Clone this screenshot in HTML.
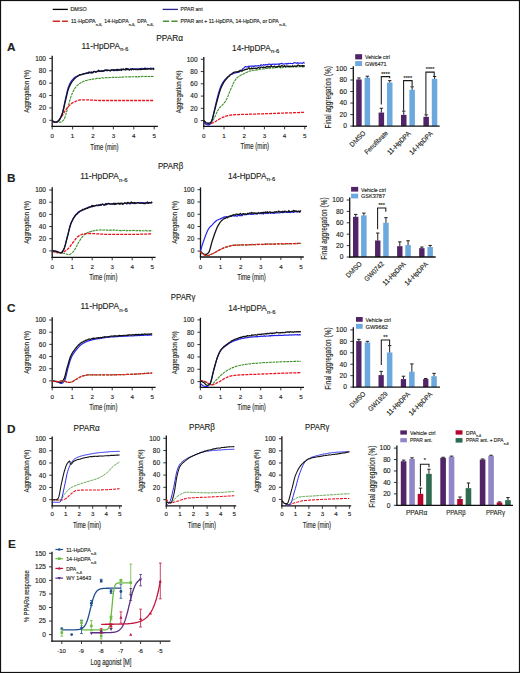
<!DOCTYPE html><html><head><meta charset="utf-8"><style>html,body{margin:0;padding:0;background:#fff;}svg{display:block;}text{stroke:#231f20;stroke-width:0.14px;}</style></head><body><svg width="520" height="673" viewBox="0 0 520 673" font-family="'Liberation Sans', sans-serif" fill="#231f20">
<rect x="0" y="0" width="520" height="673" fill="#fff"/>
<line x1="52.7" y1="9.4" x2="67.8" y2="9.4" stroke="#000" stroke-width="1.3"/>
<text x="70.4" y="10.9" font-size="5.2" textLength="16.4" lengthAdjust="spacingAndGlyphs">DMSO</text>
<line x1="52.7" y1="21.2" x2="67.8" y2="21.2" stroke="#d22a1c" stroke-width="1.4" stroke-dasharray="7.3 2.1"/>
<text x="71" y="23" font-size="5.2" textLength="24.6" lengthAdjust="spacingAndGlyphs">11-HpDPA</text>
<text x="95.8" y="26.1" font-size="4.2" textLength="6.6" lengthAdjust="spacingAndGlyphs">n-6,</text>
<text x="104.3" y="23" font-size="5.2" textLength="24.3" lengthAdjust="spacingAndGlyphs">14-HpDPA</text>
<text x="128.8" y="26.1" font-size="4.2" textLength="6.6" lengthAdjust="spacingAndGlyphs">n-6,</text>
<text x="137.2" y="23" font-size="5.2" textLength="9.5" lengthAdjust="spacingAndGlyphs">DPA</text>
<text x="147" y="26.1" font-size="4.2" textLength="7" lengthAdjust="spacingAndGlyphs">n-6,</text>
<line x1="162.7" y1="9.4" x2="177.9" y2="9.4" stroke="#2b2090" stroke-width="1.3"/>
<text x="180.6" y="10.9" font-size="5.2" textLength="22" lengthAdjust="spacingAndGlyphs">PPAR ant</text>
<line x1="162.9" y1="21.2" x2="177.8" y2="21.2" stroke="#4b9036" stroke-width="1.4" stroke-dasharray="6.2 2.3"/>
<text x="180.6" y="23" font-size="5.2" textLength="98.2" lengthAdjust="spacingAndGlyphs">PPAR ant + 11-HpDPA, 14-HpDPA, or DPA</text>
<text x="279.3" y="26.1" font-size="4.2" textLength="7" lengthAdjust="spacingAndGlyphs">n-6,</text>
<text x="7" y="51" font-size="11.8" font-weight="bold">A</text>
<text x="156.2" y="41.2" font-size="8.6" textLength="26.8" lengthAdjust="spacingAndGlyphs">PPARα</text>
<text x="81.5" y="48.8" font-size="8.3" textLength="38.5" lengthAdjust="spacingAndGlyphs">11-HpDPA</text>
<text x="120.3" y="51.2" font-size="5.15" textLength="8" lengthAdjust="spacingAndGlyphs">n-6</text>
<text x="232.1" y="50.5" font-size="8.3" textLength="38.5" lengthAdjust="spacingAndGlyphs">14-HpDPA</text>
<text x="270.9" y="52.9" font-size="5.15" textLength="8.5" lengthAdjust="spacingAndGlyphs">n-6</text>
<line x1="52.2" y1="55.7" x2="52.2" y2="127.05" stroke="#111" stroke-width="1.3"/>
<line x1="49.2" y1="120.3" x2="52.2" y2="120.3" stroke="#231f20" stroke-width="0.9"/>
<text x="46" y="122.6" font-size="6.5" text-anchor="end">0</text>
<line x1="49.2" y1="107.92" x2="52.2" y2="107.92" stroke="#231f20" stroke-width="0.9"/>
<text x="46" y="110.22" font-size="6.5" text-anchor="end">20</text>
<line x1="49.2" y1="95.54" x2="52.2" y2="95.54" stroke="#231f20" stroke-width="0.9"/>
<text x="46" y="97.84" font-size="6.5" text-anchor="end">40</text>
<line x1="49.2" y1="83.16" x2="52.2" y2="83.16" stroke="#231f20" stroke-width="0.9"/>
<text x="46" y="85.46" font-size="6.5" text-anchor="end">60</text>
<line x1="49.2" y1="70.78" x2="52.2" y2="70.78" stroke="#231f20" stroke-width="0.9"/>
<text x="46" y="73.08" font-size="6.5" text-anchor="end">80</text>
<line x1="49.2" y1="58.4" x2="52.2" y2="58.4" stroke="#231f20" stroke-width="0.9"/>
<text x="46" y="60.7" font-size="6.5" text-anchor="end">100</text>
<line x1="51.55" y1="126.4" x2="157.9" y2="126.4" stroke="#111" stroke-width="1.3"/>
<line x1="52.2" y1="126.4" x2="52.2" y2="129.4" stroke="#231f20" stroke-width="0.9"/>
<text x="52.2" y="138.4" font-size="6.2" text-anchor="middle">0</text>
<line x1="72.6" y1="126.4" x2="72.6" y2="129.4" stroke="#231f20" stroke-width="0.9"/>
<text x="72.6" y="138.4" font-size="6.2" text-anchor="middle">1</text>
<line x1="93" y1="126.4" x2="93" y2="129.4" stroke="#231f20" stroke-width="0.9"/>
<text x="93" y="138.4" font-size="6.2" text-anchor="middle">2</text>
<line x1="113.4" y1="126.4" x2="113.4" y2="129.4" stroke="#231f20" stroke-width="0.9"/>
<text x="113.4" y="138.4" font-size="6.2" text-anchor="middle">3</text>
<line x1="133.8" y1="126.4" x2="133.8" y2="129.4" stroke="#231f20" stroke-width="0.9"/>
<text x="133.8" y="138.4" font-size="6.2" text-anchor="middle">4</text>
<line x1="154.2" y1="126.4" x2="154.2" y2="129.4" stroke="#231f20" stroke-width="0.9"/>
<text x="154.2" y="138.4" font-size="6.2" text-anchor="middle">5</text>
<text x="104.45" y="149.5" font-size="8.4" text-anchor="middle" textLength="28.2" lengthAdjust="spacingAndGlyphs">Time (min)</text>
<text x="0" y="0" font-size="8" text-anchor="middle" textLength="42.8" lengthAdjust="spacingAndGlyphs" transform="translate(29.1,91.35) rotate(-90)">Aggregation (%)</text>
<path d="M52.2 120.3 L52.87 120.74 L53.54 121.11 L54.21 121.4 L54.88 121.64 L55.56 121.82 L56.23 121.95 L56.9 122.04 L57.57 122.1 L58.24 122.14 L58.91 122.15 L59.58 122.16 L60.25 122.14 L60.92 121.97 L61.59 121.66 L62.27 121.23 L62.94 120.71 L63.61 120.11 L64.28 118.98 L64.95 117.3 L65.62 115.22 L66.29 112.9 L66.96 110.5 L67.63 108.19 L68.31 105.99 L68.98 103.6 L69.65 101.15 L70.32 98.76 L70.99 96.66 L71.66 94.89 L72.33 93.29 L73 91.72 L73.67 90.38 L74.34 89.21 L75.02 88.15 L75.69 87.38 L76.36 86.52 L77.03 85.7 L77.7 85.14 L78.37 84.48 L79.04 83.91 L79.71 83.43 L80.38 83.15 L81.06 82.62 L81.73 82.11 L82.4 82.13 L83.07 81.51 L83.74 81.32 L84.41 81.17 L85.08 80.54 L85.75 80.51 L86.42 80.63 L87.09 80.26 L87.77 80.01 L88.44 79.99 L89.11 79.68 L89.78 79.68 L90.45 79.41 L91.12 79.13 L91.79 79.4 L92.46 79.12 L93.13 79.13 L93.81 78.91 L94.48 79.06 L95.15 78.85 L95.82 78.69 L96.49 78.4 L97.16 78.27 L97.83 78.65 L98.5 78.49 L99.17 78.15 L99.84 78.59 L100.52 78.25 L101.19 78.12 L101.86 77.82 L102.53 77.87 L103.2 78.01 L103.87 77.97 L104.54 77.9 L105.21 77.53 L105.88 77.85 L106.56 77.78 L107.23 77.62 L107.9 77.67 L108.57 77.64 L109.24 77.77 L109.91 77.53 L110.58 77.57 L111.25 77.24 L111.92 77.3 L112.59 77.39 L113.27 77.23 L113.94 77.39 L114.61 77.1 L115.28 77.27 L115.95 77.13 L116.62 77.45 L117.29 77.12 L117.96 77.47 L118.63 77.51 L119.31 77.17 L119.98 77.25 L120.65 77.03 L121.32 76.62 L121.99 77.17 L122.66 77.11 L123.33 76.94 L124 76.87 L124.67 76.97 L125.34 76.96 L126.02 76.77 L126.69 76.78 L127.36 77.05 L128.03 76.85 L128.7 76.81 L129.37 77 L130.04 76.73 L130.71 76.92 L131.38 76.56 L132.06 76.69 L132.73 76.69 L133.4 76.8 L134.07 76.69 L134.74 77.03 L135.41 76.85 L136.08 76.55 L136.75 77 L137.42 76.43 L138.09 76.9 L138.77 76.42 L139.44 76.7 L140.11 76.38 L140.78 76.49 L141.45 76.79 L142.12 76.26 L142.79 76.21 L143.46 76.48 L144.13 76.5 L144.81 76.47 L145.48 76.61 L146.15 76.22 L146.82 76.51 L147.49 76.41 L148.16 76.54 L148.83 76.5 L149.5 76.62 L150.17 76.14 L150.84 76.4 L151.52 76.18 L152.19 76.36 L152.86 76.48 L153.53 76.41 L154.2 76.46" fill="none" stroke="#3f922c" stroke-width="1.1" stroke-linejoin="round" stroke-dasharray="2.8 0.7"/>
<path d="M52.2 121.23 L52.87 121.63 L53.54 121.9 L54.21 122.05 L54.88 122.13 L55.56 122.15 L56.23 122.15 L56.9 121.95 L57.57 121.5 L58.24 120.87 L58.91 120.11 L59.58 119.26 L60.25 118.37 L60.92 117.51 L61.59 116.67 L62.27 115.69 L62.94 114.6 L63.61 113.44 L64.28 112.27 L64.95 111.11 L65.62 110.02 L66.29 109.04 L66.96 108.2 L67.63 107.4 L68.31 106.62 L68.98 105.87 L69.65 105.17 L70.32 104.51 L70.99 103.93 L71.66 103.42 L72.33 103 L73 102.64 L73.67 102.29 L74.34 101.95 L75.02 101.61 L75.69 101.3 L76.36 101.01 L77.03 100.74 L77.7 100.5 L78.37 100.29 L79.04 100.12 L79.71 99.99 L80.38 99.91 L81.06 99.87 L81.73 99.87 L82.4 99.87 L83.07 99.87 L83.74 99.87 L84.41 99.87 L85.08 99.87 L85.75 99.87 L86.42 99.87 L87.09 99.87 L87.77 99.88 L88.44 99.9 L89.11 99.93 L89.78 99.96 L90.45 99.99 L91.12 100.04 L91.79 100.08 L92.46 100.12 L93.13 100.17 L93.81 100.22 L94.48 100.26 L95.15 100.31 L95.82 100.35 L96.49 100.39 L97.16 100.42 L97.83 100.45 L98.5 100.47 L99.17 100.49 L99.84 100.49 L100.52 100.49 L101.19 100.49 L101.86 100.49 L102.53 100.49 L103.2 100.49 L103.87 100.49 L104.54 100.49 L105.21 100.49 L105.88 100.49 L106.56 100.49 L107.23 100.49 L107.9 100.49 L108.57 100.49 L109.24 100.49 L109.91 100.49 L110.58 100.49 L111.25 100.49 L111.92 100.49 L112.59 100.49 L113.27 100.49 L113.94 100.49 L114.61 100.49 L115.28 100.49 L115.95 100.49 L116.62 100.49 L117.29 100.49 L117.96 100.49 L118.63 100.49 L119.31 100.49 L119.98 100.49 L120.65 100.49 L121.32 100.49 L121.99 100.49 L122.66 100.49 L123.33 100.49 L124 100.49 L124.67 100.49 L125.34 100.49 L126.02 100.49 L126.69 100.49 L127.36 100.49 L128.03 100.49 L128.7 100.49 L129.37 100.49 L130.04 100.49 L130.71 100.49 L131.38 100.49 L132.06 100.49 L132.73 100.49 L133.4 100.49 L134.07 100.49 L134.74 100.49 L135.41 100.49 L136.08 100.49 L136.75 100.49 L137.42 100.49 L138.09 100.49 L138.77 100.49 L139.44 100.49 L140.11 100.49 L140.78 100.49 L141.45 100.49 L142.12 100.49 L142.79 100.49 L143.46 100.49 L144.13 100.49 L144.81 100.49 L145.48 100.49 L146.15 100.49 L146.82 100.49 L147.49 100.49 L148.16 100.49 L148.83 100.49 L149.5 100.49 L150.17 100.49 L150.84 100.49 L151.52 100.49 L152.19 100.49 L152.86 100.49 L153.53 100.49 L154.2 100.49" fill="none" stroke="#ea1420" stroke-width="1.3" stroke-linejoin="round" stroke-dasharray="3 1.0"/>
<path d="M52.2 120.61 L52.87 121.19 L53.54 121.61 L54.21 121.89 L54.88 122.06 L55.56 122.14 L56.23 122.15 L56.9 121.95 L57.57 121.53 L58.24 120.96 L58.91 120.32 L59.58 119.48 L60.25 118.3 L60.92 116.83 L61.59 115.14 L62.27 113.29 L62.94 110.89 L63.61 107.89 L64.28 104.58 L64.95 101.25 L65.62 98.2 L66.29 95.34 L66.96 92.45 L67.63 89.76 L68.31 87.48 L68.98 85.69 L69.65 84.1 L70.32 82.71 L70.99 81.53 L71.66 80.56 L72.33 79.81 L73 79.09 L73.67 78.43 L74.34 77.76 L75.02 77.28 L75.69 76.86 L76.36 76.57 L77.03 76.35 L77.7 75.77 L78.37 75.48 L79.04 75.37 L79.71 75.03 L80.38 74.76 L81.06 74.53 L81.73 74.31 L82.4 74.38 L83.07 73.81 L83.74 74.2 L84.41 73.59 L85.08 73.51 L85.75 73.26 L86.42 72.85 L87.09 72.78 L87.77 73.31 L88.44 73.32 L89.11 72.49 L89.78 72.86 L90.45 72.44 L91.12 72.06 L91.79 72.62 L92.46 72.62 L93.13 71.84 L93.81 71.78 L94.48 71.75 L95.15 71.56 L95.82 71.71 L96.49 71.8 L97.16 71.33 L97.83 71.48 L98.5 71.59 L99.17 70.92 L99.84 71.02 L100.52 70.83 L101.19 71.15 L101.86 71 L102.53 71.04 L103.2 70.96 L103.87 70.6 L104.54 70.82 L105.21 70.46 L105.88 70.41 L106.56 69.9 L107.23 70.8 L107.9 70.12 L108.57 70.35 L109.24 70.29 L109.91 70.65 L110.58 70.33 L111.25 69.96 L111.92 70.15 L112.59 70.07 L113.27 70.14 L113.94 69.7 L114.61 69.99 L115.28 70.56 L115.95 70.11 L116.62 70.43 L117.29 70.76 L117.96 69.96 L118.63 69.41 L119.31 69.74 L119.98 70.05 L120.65 69.95 L121.32 69.34 L121.99 69.58 L122.66 69.57 L123.33 69.57 L124 69.51 L124.67 69.26 L125.34 69.3 L126.02 69.36 L126.69 69.68 L127.36 69.22 L128.03 69.52 L128.7 68.99 L129.37 69.62 L130.04 69.27 L130.71 69.2 L131.38 69.54 L132.06 68.66 L132.73 68.7 L133.4 69.21 L134.07 68.83 L134.74 68.91 L135.41 69.72 L136.08 68.89 L136.75 68.95 L137.42 68.88 L138.09 69.17 L138.77 68.92 L139.44 68.87 L140.11 68.46 L140.78 68.67 L141.45 68.74 L142.12 68.29 L142.79 68.84 L143.46 68.77 L144.13 69.14 L144.81 68.17 L145.48 68.32 L146.15 68.31 L146.82 68.35 L147.49 68.48 L148.16 68.43 L148.83 68.54 L149.5 68.5 L150.17 68.41 L150.84 67.98 L151.52 68.23 L152.19 68.38 L152.86 68.5 L153.53 68.5 L154.2 67.86" fill="none" stroke="#2424e8" stroke-width="1.2" stroke-linejoin="round"/>
<path d="M52.2 120.61 L52.87 121.19 L53.54 121.61 L54.21 121.89 L54.88 122.06 L55.56 122.14 L56.23 122.15 L56.9 121.95 L57.57 121.52 L58.24 120.96 L58.91 120.32 L59.58 119.53 L60.25 118.45 L60.92 117.13 L61.59 115.61 L62.27 113.93 L62.94 111.75 L63.61 109.03 L64.28 106.01 L64.95 102.93 L65.62 100.05 L66.29 97.25 L66.96 94.35 L67.63 91.63 L68.31 89.33 L68.98 87.58 L69.65 86.04 L70.32 84.61 L70.99 83.45 L71.66 82.38 L72.33 81.28 L73 80.65 L73.67 79.67 L74.34 78.86 L75.02 78.32 L75.69 77.63 L76.36 76.79 L77.03 76.62 L77.7 76.22 L78.37 75.97 L79.04 75.32 L79.71 74.69 L80.38 74.55 L81.06 74.83 L81.73 74.61 L82.4 74.34 L83.07 73.94 L83.74 73.94 L84.41 73.66 L85.08 73.48 L85.75 73.56 L86.42 73.32 L87.09 73.08 L87.77 73.06 L88.44 72.67 L89.11 71.93 L89.78 72.34 L90.45 72.43 L91.12 73.05 L91.79 72.02 L92.46 72.9 L93.13 72.54 L93.81 71.44 L94.48 71.39 L95.15 71.65 L95.82 72.22 L96.49 71.54 L97.16 71.58 L97.83 70.93 L98.5 70.15 L99.17 70.97 L99.84 71.34 L100.52 71.44 L101.19 70.9 L101.86 70.89 L102.53 71.26 L103.2 70.65 L103.87 71.14 L104.54 70.11 L105.21 70.07 L105.88 70.01 L106.56 70.64 L107.23 70.16 L107.9 70.39 L108.57 70.45 L109.24 70.39 L109.91 70.76 L110.58 70.78 L111.25 69.77 L111.92 70.15 L112.59 69.94 L113.27 69.56 L113.94 70.71 L114.61 70.26 L115.28 69.81 L115.95 69.68 L116.62 69.98 L117.29 69.34 L117.96 69.66 L118.63 70.25 L119.31 70.1 L119.98 69.32 L120.65 69.44 L121.32 70.44 L121.99 69.01 L122.66 69.31 L123.33 68.97 L124 69.7 L124.67 69.64 L125.34 69.98 L126.02 68.37 L126.69 69.52 L127.36 68.74 L128.03 69.69 L128.7 69.31 L129.37 70.09 L130.04 69.51 L130.71 68.9 L131.38 69.85 L132.06 68.82 L132.73 69.12 L133.4 69.7 L134.07 69.45 L134.74 69.41 L135.41 69.22 L136.08 69.41 L136.75 69.52 L137.42 69.28 L138.09 69.58 L138.77 69.68 L139.44 69.12 L140.11 68.7 L140.78 69.74 L141.45 69.06 L142.12 69.33 L142.79 69.46 L143.46 68.65 L144.13 69.24 L144.81 68.35 L145.48 69.33 L146.15 68.81 L146.82 69.07 L147.49 69.29 L148.16 68.7 L148.83 69.02 L149.5 68.68 L150.17 68.96 L150.84 69.4 L151.52 68.97 L152.19 68.9 L152.86 68.51 L153.53 69.32 L154.2 68.94" fill="none" stroke="#141414" stroke-width="1.3" stroke-linejoin="round"/>
<line x1="203.8" y1="56.9" x2="203.8" y2="126.95" stroke="#111" stroke-width="1.3"/>
<line x1="200.8" y1="120.6" x2="203.8" y2="120.6" stroke="#231f20" stroke-width="0.9"/>
<text x="197.6" y="122.9" font-size="6.5" text-anchor="end">0</text>
<line x1="200.8" y1="108.34" x2="203.8" y2="108.34" stroke="#231f20" stroke-width="0.9"/>
<text x="197.6" y="110.64" font-size="6.5" text-anchor="end">20</text>
<line x1="200.8" y1="96.08" x2="203.8" y2="96.08" stroke="#231f20" stroke-width="0.9"/>
<text x="197.6" y="98.38" font-size="6.5" text-anchor="end">40</text>
<line x1="200.8" y1="83.82" x2="203.8" y2="83.82" stroke="#231f20" stroke-width="0.9"/>
<text x="197.6" y="86.12" font-size="6.5" text-anchor="end">60</text>
<line x1="200.8" y1="71.56" x2="203.8" y2="71.56" stroke="#231f20" stroke-width="0.9"/>
<text x="197.6" y="73.86" font-size="6.5" text-anchor="end">80</text>
<line x1="200.8" y1="59.3" x2="203.8" y2="59.3" stroke="#231f20" stroke-width="0.9"/>
<text x="197.6" y="61.6" font-size="6.5" text-anchor="end">100</text>
<line x1="203.15" y1="126.3" x2="307" y2="126.3" stroke="#111" stroke-width="1.3"/>
<line x1="203.8" y1="126.3" x2="203.8" y2="129.3" stroke="#231f20" stroke-width="0.9"/>
<text x="203.8" y="138.3" font-size="6.2" text-anchor="middle">0</text>
<line x1="224" y1="126.3" x2="224" y2="129.3" stroke="#231f20" stroke-width="0.9"/>
<text x="224" y="138.3" font-size="6.2" text-anchor="middle">1</text>
<line x1="244.2" y1="126.3" x2="244.2" y2="129.3" stroke="#231f20" stroke-width="0.9"/>
<text x="244.2" y="138.3" font-size="6.2" text-anchor="middle">2</text>
<line x1="264.4" y1="126.3" x2="264.4" y2="129.3" stroke="#231f20" stroke-width="0.9"/>
<text x="264.4" y="138.3" font-size="6.2" text-anchor="middle">3</text>
<line x1="284.6" y1="126.3" x2="284.6" y2="129.3" stroke="#231f20" stroke-width="0.9"/>
<text x="284.6" y="138.3" font-size="6.2" text-anchor="middle">4</text>
<line x1="304.8" y1="126.3" x2="304.8" y2="129.3" stroke="#231f20" stroke-width="0.9"/>
<text x="304.8" y="138.3" font-size="6.2" text-anchor="middle">5</text>
<text x="254.8" y="149.4" font-size="8.4" text-anchor="middle" textLength="28.6" lengthAdjust="spacingAndGlyphs">Time (min)</text>
<text x="0" y="0" font-size="8" text-anchor="middle" textLength="42.8" lengthAdjust="spacingAndGlyphs" transform="translate(180.7,91.95) rotate(-90)">Aggregation (%)</text>
<path d="M203.8 120.6 L204.47 121.3 L205.15 121.86 L205.82 122.3 L206.49 122.62 L207.17 122.85 L207.84 122.98 L208.51 123.04 L209.19 123.02 L209.86 122.79 L210.53 122.38 L211.21 121.86 L211.88 121.27 L212.55 120.64 L213.23 119.79 L213.9 118.69 L214.57 117.42 L215.25 116.02 L215.92 114.55 L216.59 113.08 L217.27 111.65 L217.94 110.32 L218.61 109.15 L219.29 108.19 L219.96 107.35 L220.63 106.58 L221.31 105.91 L221.98 105.27 L222.65 104.6 L223.33 103.93 L224 103.12 L224.67 102.29 L225.35 101.44 L226.02 100.38 L226.69 98.98 L227.37 97.33 L228.04 95.98 L228.71 94.03 L229.39 92.49 L230.06 90.71 L230.73 89.37 L231.41 87.73 L232.08 86.32 L232.75 84.8 L233.43 83.16 L234.1 81.96 L234.77 80.87 L235.45 79.78 L236.12 78.95 L236.79 78 L237.47 77.36 L238.14 76.85 L238.81 76.39 L239.49 76.15 L240.16 75.57 L240.83 75.21 L241.51 74.63 L242.18 74.21 L242.85 74.26 L243.53 74.06 L244.2 73.61 L244.87 73.37 L245.55 73.05 L246.22 72.56 L246.89 72.39 L247.57 71.76 L248.24 71.58 L248.91 71.24 L249.59 71.1 L250.26 71.04 L250.93 70.93 L251.61 70.66 L252.28 70.58 L252.95 70.3 L253.63 70.22 L254.3 70.35 L254.97 69.96 L255.65 70.11 L256.32 69.86 L256.99 69.7 L257.67 69.92 L258.34 69.42 L259.01 69.32 L259.69 69.28 L260.36 69.24 L261.03 69.14 L261.71 69.17 L262.38 68.96 L263.05 68.94 L263.73 68.75 L264.4 68.91 L265.07 68.58 L265.75 68.53 L266.42 68.52 L267.09 68.51 L267.77 68.27 L268.44 68.62 L269.11 68.18 L269.79 68.16 L270.46 68.1 L271.13 68.04 L271.81 68.18 L272.48 68.06 L273.15 67.85 L273.83 67.85 L274.5 67.84 L275.17 68.12 L275.85 67.7 L276.52 67.54 L277.19 67.53 L277.87 67.63 L278.54 67.92 L279.21 67.42 L279.89 67.58 L280.56 67.98 L281.23 67.4 L281.91 67.71 L282.58 67.63 L283.25 67.48 L283.93 67.09 L284.6 67.35 L285.27 67.2 L285.95 66.89 L286.62 66.89 L287.29 67.16 L287.97 67.16 L288.64 67.31 L289.31 67.18 L289.99 66.94 L290.66 66.92 L291.33 66.94 L292.01 66.75 L292.68 67.05 L293.35 66.89 L294.03 66.72 L294.7 66.73 L295.37 66.62 L296.05 66.72 L296.72 66.83 L297.39 66.69 L298.07 66.92 L298.74 67.02 L299.41 66.6 L300.09 66.71 L300.76 66.63 L301.43 66.99 L302.11 66.74 L302.78 66.77 L303.45 66.82 L304.13 67.07 L304.8 66.72" fill="none" stroke="#3f922c" stroke-width="1.1" stroke-linejoin="round" stroke-dasharray="2.8 0.7"/>
<path d="M203.8 122.01 L204.47 122.56 L205.15 123.06 L205.82 123.48 L206.49 123.82 L207.17 124.08 L207.84 124.23 L208.51 124.28 L209.19 124.22 L209.86 124.08 L210.53 123.87 L211.21 123.61 L211.88 123.31 L212.55 122.98 L213.23 122.64 L213.9 122.3 L214.57 121.98 L215.25 121.63 L215.92 121.24 L216.59 120.82 L217.27 120.39 L217.94 119.95 L218.61 119.52 L219.29 119.12 L219.96 118.76 L220.63 118.43 L221.31 118.09 L221.98 117.76 L222.65 117.44 L223.33 117.13 L224 116.84 L224.67 116.56 L225.35 116.32 L226.02 116.1 L226.69 115.91 L227.37 115.75 L228.04 115.6 L228.71 115.46 L229.39 115.32 L230.06 115.2 L230.73 115.09 L231.41 114.99 L232.08 114.9 L232.75 114.83 L233.43 114.78 L234.1 114.74 L234.77 114.7 L235.45 114.67 L236.12 114.64 L236.79 114.61 L237.47 114.58 L238.14 114.56 L238.81 114.53 L239.49 114.51 L240.16 114.49 L240.83 114.47 L241.51 114.45 L242.18 114.43 L242.85 114.42 L243.53 114.4 L244.2 114.38 L244.87 114.37 L245.55 114.35 L246.22 114.33 L246.89 114.32 L247.57 114.3 L248.24 114.28 L248.91 114.26 L249.59 114.24 L250.26 114.22 L250.93 114.2 L251.61 114.17 L252.28 114.15 L252.95 114.13 L253.63 114.1 L254.3 114.08 L254.97 114.06 L255.65 114.04 L256.32 114.01 L256.99 113.99 L257.67 113.97 L258.34 113.94 L259.01 113.92 L259.69 113.9 L260.36 113.87 L261.03 113.85 L261.71 113.83 L262.38 113.81 L263.05 113.78 L263.73 113.76 L264.4 113.74 L265.07 113.71 L265.75 113.69 L266.42 113.67 L267.09 113.64 L267.77 113.62 L268.44 113.6 L269.11 113.57 L269.79 113.55 L270.46 113.53 L271.13 113.51 L271.81 113.48 L272.48 113.46 L273.15 113.44 L273.83 113.41 L274.5 113.39 L275.17 113.37 L275.85 113.34 L276.52 113.32 L277.19 113.3 L277.87 113.27 L278.54 113.25 L279.21 113.23 L279.89 113.2 L280.56 113.18 L281.23 113.16 L281.91 113.13 L282.58 113.11 L283.25 113.09 L283.93 113.06 L284.6 113.04 L285.27 113.01 L285.95 112.99 L286.62 112.97 L287.29 112.94 L287.97 112.92 L288.64 112.9 L289.31 112.87 L289.99 112.85 L290.66 112.83 L291.33 112.8 L292.01 112.78 L292.68 112.75 L293.35 112.73 L294.03 112.71 L294.7 112.68 L295.37 112.66 L296.05 112.64 L296.72 112.61 L297.39 112.59 L298.07 112.56 L298.74 112.54 L299.41 112.52 L300.09 112.49 L300.76 112.47 L301.43 112.44 L302.11 112.42 L302.78 112.4 L303.45 112.37 L304.13 112.35 L304.8 112.32" fill="none" stroke="#ea1420" stroke-width="1.3" stroke-linejoin="round" stroke-dasharray="3 1.0"/>
<path d="M203.8 121.83 L204.47 122.87 L205.15 123.65 L205.82 124.2 L206.49 124.55 L207.17 124.76 L207.84 124.86 L208.51 124.89 L209.19 124.82 L209.86 124.31 L210.53 123.42 L211.21 122.3 L211.88 120.88 L212.55 118.49 L213.23 115.47 L213.9 112.26 L214.57 109.29 L215.25 106.42 L215.92 103.47 L216.59 100.56 L217.27 97.83 L217.94 95.37 L218.61 93.02 L219.29 90.76 L219.96 88.68 L220.63 86.87 L221.31 85.39 L221.98 84.09 L222.65 82.89 L223.33 81.92 L224 80.93 L224.67 79.97 L225.35 79.25 L226.02 78.62 L226.69 77.77 L227.37 77.22 L228.04 76.65 L228.71 76.23 L229.39 75.54 L230.06 75.25 L230.73 74.62 L231.41 74.53 L232.08 74.17 L232.75 73.67 L233.43 73.55 L234.1 73.05 L234.77 72.93 L235.45 73.01 L236.12 72.65 L236.79 72.6 L237.47 72.16 L238.14 72.38 L238.81 72.15 L239.49 71.5 L240.16 70.94 L240.83 70.59 L241.51 70.5 L242.18 69.7 L242.85 68.53 L243.53 68.19 L244.2 67.74 L244.87 66.91 L245.55 66.54 L246.22 66.81 L246.89 66.96 L247.57 66.84 L248.24 66.2 L248.91 66.55 L249.59 66.34 L250.26 66.21 L250.93 66.06 L251.61 66.3 L252.28 66.03 L252.95 66.38 L253.63 66.19 L254.3 66.33 L254.97 65.68 L255.65 65.94 L256.32 66.08 L256.99 65.91 L257.67 65.81 L258.34 65.49 L259.01 66.06 L259.69 65.84 L260.36 65.59 L261.03 64.72 L261.71 65.09 L262.38 65.31 L263.05 65.01 L263.73 64.57 L264.4 65.14 L265.07 65.1 L265.75 64.6 L266.42 64.73 L267.09 64.62 L267.77 64.88 L268.44 64.14 L269.11 64.14 L269.79 64.39 L270.46 64.3 L271.13 65 L271.81 64.21 L272.48 64.39 L273.15 64.17 L273.83 64.06 L274.5 64.3 L275.17 64.63 L275.85 64.03 L276.52 64.29 L277.19 64.14 L277.87 64.18 L278.54 64.07 L279.21 64.57 L279.89 63.56 L280.56 63.79 L281.23 63.52 L281.91 63.24 L282.58 63.75 L283.25 64.22 L283.93 63.93 L284.6 63.98 L285.27 63.76 L285.95 63.56 L286.62 64.1 L287.29 63.42 L287.97 63.9 L288.64 63.37 L289.31 63.46 L289.99 63.48 L290.66 63.39 L291.33 63.49 L292.01 63.48 L292.68 63.75 L293.35 63.27 L294.03 62.73 L294.7 62.67 L295.37 62.82 L296.05 62.97 L296.72 63.33 L297.39 62.73 L298.07 63.12 L298.74 63.11 L299.41 63.15 L300.09 63.03 L300.76 63.16 L301.43 63.05 L302.11 63.31 L302.78 63.11 L303.45 62.37 L304.13 63 L304.8 63.04" fill="none" stroke="#2424e8" stroke-width="1.2" stroke-linejoin="round"/>
<path d="M203.8 120.29 L204.47 121.16 L205.15 121.87 L205.82 122.44 L206.49 122.86 L207.17 123.15 L207.84 123.31 L208.51 123.36 L209.19 123.23 L209.86 122.91 L210.53 122.45 L211.21 121.87 L211.88 120.54 L212.55 118.41 L213.23 115.82 L213.9 113.08 L214.57 110.55 L215.25 108.07 L215.92 105.45 L216.59 102.8 L217.27 100.23 L217.94 97.82 L218.61 95.43 L219.29 93.07 L219.96 90.84 L220.63 88.85 L221.31 87.24 L221.98 85.77 L222.65 84.37 L223.33 83.12 L224 81.86 L224.67 80.97 L225.35 80.18 L226.02 79.25 L226.69 78.51 L227.37 77.83 L228.04 76.85 L228.71 76.36 L229.39 76 L230.06 74.86 L230.73 74.48 L231.41 73.87 L232.08 73.49 L232.75 72.96 L233.43 72.8 L234.1 72.18 L234.77 72.18 L235.45 71.98 L236.12 71.78 L236.79 72.27 L237.47 71.65 L238.14 71.53 L238.81 71.19 L239.49 71.68 L240.16 70.25 L240.83 70.72 L241.51 71.1 L242.18 71.12 L242.85 70.31 L243.53 70.04 L244.2 70.11 L244.87 69.58 L245.55 69.71 L246.22 69.02 L246.89 69.4 L247.57 68.95 L248.24 68.37 L248.91 67.56 L249.59 68.99 L250.26 68.67 L250.93 68.75 L251.61 67.97 L252.28 68.72 L252.95 68.36 L253.63 68.09 L254.3 68.43 L254.97 68.35 L255.65 68.07 L256.32 68.7 L256.99 68.36 L257.67 67.85 L258.34 67.55 L259.01 67.63 L259.69 68.26 L260.36 67.64 L261.03 67.05 L261.71 67.1 L262.38 67.32 L263.05 67.62 L263.73 66.92 L264.4 67.39 L265.07 67.6 L265.75 67.41 L266.42 66.4 L267.09 66.89 L267.77 66.45 L268.44 67.12 L269.11 66.47 L269.79 67.1 L270.46 66.88 L271.13 65.72 L271.81 66.43 L272.48 66.94 L273.15 66.74 L273.83 66.54 L274.5 66.14 L275.17 66.84 L275.85 67.36 L276.52 66.71 L277.19 66.56 L277.87 66.5 L278.54 65.96 L279.21 66.37 L279.89 66.14 L280.56 66.94 L281.23 66.07 L281.91 65.53 L282.58 66.08 L283.25 66.28 L283.93 66.3 L284.6 65.58 L285.27 66.73 L285.95 66.36 L286.62 66.1 L287.29 65.96 L287.97 66.45 L288.64 66.12 L289.31 66.35 L289.99 66.17 L290.66 66.26 L291.33 66.68 L292.01 66.19 L292.68 65.79 L293.35 66.57 L294.03 66.24 L294.7 65.84 L295.37 66.58 L296.05 66.03 L296.72 66.55 L297.39 65.6 L298.07 65.09 L298.74 65.21 L299.41 66.16 L300.09 65.75 L300.76 66.01 L301.43 66.01 L302.11 65.39 L302.78 66.61 L303.45 65.59 L304.13 66.06 L304.8 65.44" fill="none" stroke="#141414" stroke-width="1.3" stroke-linejoin="round"/>
<rect x="356.2" y="79.44" width="5.5" height="46.66" fill="#502466"/>
<line x1="358.95" y1="77.95" x2="358.95" y2="79.44" stroke="#231f20" stroke-width="1"/>
<line x1="357.25" y1="77.95" x2="360.65" y2="77.95" stroke="#231f20" stroke-width="1"/>
<rect x="364.6" y="77.72" width="5.5" height="48.38" fill="#6aa8de"/>
<line x1="367.35" y1="76.22" x2="367.35" y2="77.72" stroke="#231f20" stroke-width="1"/>
<line x1="365.65" y1="76.22" x2="369.05" y2="76.22" stroke="#231f20" stroke-width="1"/>
<rect x="378.6" y="112.56" width="5.5" height="13.54" fill="#502466"/>
<line x1="381.35" y1="108.24" x2="381.35" y2="112.56" stroke="#231f20" stroke-width="1"/>
<line x1="379.65" y1="108.24" x2="383.05" y2="108.24" stroke="#231f20" stroke-width="1"/>
<rect x="387" y="82.61" width="5.5" height="43.49" fill="#6aa8de"/>
<line x1="389.75" y1="80.65" x2="389.75" y2="82.61" stroke="#231f20" stroke-width="1"/>
<line x1="388.05" y1="80.65" x2="391.45" y2="80.65" stroke="#231f20" stroke-width="1"/>
<rect x="401" y="114.87" width="5.5" height="11.23" fill="#502466"/>
<line x1="403.75" y1="111.12" x2="403.75" y2="114.87" stroke="#231f20" stroke-width="1"/>
<line x1="402.05" y1="111.12" x2="405.45" y2="111.12" stroke="#231f20" stroke-width="1"/>
<rect x="409.4" y="89.81" width="5.5" height="36.29" fill="#6aa8de"/>
<line x1="412.15" y1="86.82" x2="412.15" y2="89.81" stroke="#231f20" stroke-width="1"/>
<line x1="410.45" y1="86.82" x2="413.85" y2="86.82" stroke="#231f20" stroke-width="1"/>
<rect x="423.4" y="116.88" width="5.5" height="9.22" fill="#502466"/>
<line x1="426.15" y1="114.87" x2="426.15" y2="116.88" stroke="#231f20" stroke-width="1"/>
<line x1="424.45" y1="114.87" x2="427.85" y2="114.87" stroke="#231f20" stroke-width="1"/>
<rect x="431.8" y="78.87" width="5.5" height="47.23" fill="#6aa8de"/>
<line x1="434.55" y1="76.56" x2="434.55" y2="78.87" stroke="#231f20" stroke-width="1"/>
<line x1="432.85" y1="76.56" x2="436.25" y2="76.56" stroke="#231f20" stroke-width="1"/>
<line x1="353.3" y1="66.2" x2="353.3" y2="126.75" stroke="#111" stroke-width="1.3"/>
<line x1="350.3" y1="126.1" x2="353.3" y2="126.1" stroke="#231f20" stroke-width="0.9"/>
<text x="347" y="128.4" font-size="6.7" text-anchor="end">0</text>
<line x1="350.3" y1="114.58" x2="353.3" y2="114.58" stroke="#231f20" stroke-width="0.9"/>
<text x="347" y="116.88" font-size="6.7" text-anchor="end">20</text>
<line x1="350.3" y1="103.06" x2="353.3" y2="103.06" stroke="#231f20" stroke-width="0.9"/>
<text x="347" y="105.36" font-size="6.7" text-anchor="end">40</text>
<line x1="350.3" y1="91.54" x2="353.3" y2="91.54" stroke="#231f20" stroke-width="0.9"/>
<text x="347" y="93.84" font-size="6.7" text-anchor="end">60</text>
<line x1="350.3" y1="80.02" x2="353.3" y2="80.02" stroke="#231f20" stroke-width="0.9"/>
<text x="347" y="82.32" font-size="6.7" text-anchor="end">80</text>
<line x1="350.3" y1="68.5" x2="353.3" y2="68.5" stroke="#231f20" stroke-width="0.9"/>
<text x="347" y="70.8" font-size="6.7" text-anchor="end">100</text>
<line x1="352.65" y1="126.1" x2="439.7" y2="126.1" stroke="#111" stroke-width="1.3"/>
<text x="0" y="0" font-size="9" text-anchor="middle" textLength="62.3" lengthAdjust="spacingAndGlyphs" transform="translate(331.2,97.3) rotate(-90)">Final aggregation (%)</text>
<rect x="355.2" y="54.2" width="6.9" height="5.2" fill="#502466"/>
<rect x="355.2" y="61.1" width="6.9" height="4.9" fill="#6aa8de"/>
<text x="365" y="58.9" font-size="5.6" textLength="25" lengthAdjust="spacingAndGlyphs">Vehicle ctrl</text>
<text x="365" y="65.9" font-size="5.6" textLength="21.5" lengthAdjust="spacingAndGlyphs">GW6471</text>
<path d="M381.3 104.4 V76.6 H389.7 V78.2" fill="none" stroke="#1a1a1a" stroke-width="1.05"/>
<text x="385.5" y="75.6" font-size="5.5" text-anchor="middle">****</text>
<path d="M403.6 110.5 V80.6 H412.1 V86" fill="none" stroke="#1a1a1a" stroke-width="1.05"/>
<text x="407.85" y="79.6" font-size="5.5" text-anchor="middle">****</text>
<path d="M425.9 114.5 V72.1 H434.2 V76" fill="none" stroke="#1a1a1a" stroke-width="1.05"/>
<text x="430.05" y="71.1" font-size="5.5" text-anchor="middle">****</text>
<text x="0" y="0" font-size="6.9" text-anchor="end" textLength="19.5" lengthAdjust="spacingAndGlyphs" transform="translate(366.1,133.6) rotate(-45)">DMSO</text>
<text x="0" y="0" font-size="6.9" text-anchor="end" textLength="29.8" lengthAdjust="spacingAndGlyphs" transform="translate(388.4,133.6) rotate(-45)">Fenofibrate</text>
<text x="0" y="0" font-size="6.9" text-anchor="end" textLength="30" lengthAdjust="spacingAndGlyphs" transform="translate(411.1,134) rotate(-45)">11-HpDPA</text>
<text x="0" y="0" font-size="6.9" text-anchor="end" textLength="30" lengthAdjust="spacingAndGlyphs" transform="translate(433.3,134) rotate(-45)">14-HpDPA</text>
<text x="7" y="181.5" font-size="11.8" font-weight="bold">B</text>
<text x="157.9" y="169.3" font-size="8.6" textLength="25.3" lengthAdjust="spacingAndGlyphs">PPARβ</text>
<text x="80.2" y="179.2" font-size="8.3" textLength="38.5" lengthAdjust="spacingAndGlyphs">11-HpDPA</text>
<text x="119" y="181.6" font-size="5.15" textLength="8.5" lengthAdjust="spacingAndGlyphs">n-6</text>
<text x="227.9" y="178.8" font-size="8.3" textLength="38.5" lengthAdjust="spacingAndGlyphs">14-HpDPA</text>
<text x="266.7" y="181.2" font-size="5.15" textLength="8.5" lengthAdjust="spacingAndGlyphs">n-6</text>
<line x1="52.2" y1="187.3" x2="52.2" y2="257.95" stroke="#111" stroke-width="1.3"/>
<line x1="49.2" y1="250.9" x2="52.2" y2="250.9" stroke="#231f20" stroke-width="0.9"/>
<text x="46" y="253.2" font-size="6.5" text-anchor="end">0</text>
<line x1="49.2" y1="238.72" x2="52.2" y2="238.72" stroke="#231f20" stroke-width="0.9"/>
<text x="46" y="241.02" font-size="6.5" text-anchor="end">20</text>
<line x1="49.2" y1="226.54" x2="52.2" y2="226.54" stroke="#231f20" stroke-width="0.9"/>
<text x="46" y="228.84" font-size="6.5" text-anchor="end">40</text>
<line x1="49.2" y1="214.36" x2="52.2" y2="214.36" stroke="#231f20" stroke-width="0.9"/>
<text x="46" y="216.66" font-size="6.5" text-anchor="end">60</text>
<line x1="49.2" y1="202.18" x2="52.2" y2="202.18" stroke="#231f20" stroke-width="0.9"/>
<text x="46" y="204.48" font-size="6.5" text-anchor="end">80</text>
<line x1="49.2" y1="190" x2="52.2" y2="190" stroke="#231f20" stroke-width="0.9"/>
<text x="46" y="192.3" font-size="6.5" text-anchor="end">100</text>
<line x1="51.55" y1="257.3" x2="155.6" y2="257.3" stroke="#111" stroke-width="1.3"/>
<line x1="52.2" y1="257.3" x2="52.2" y2="260.3" stroke="#231f20" stroke-width="0.9"/>
<text x="52.2" y="269.3" font-size="6.2" text-anchor="middle">0</text>
<line x1="72.2" y1="257.3" x2="72.2" y2="260.3" stroke="#231f20" stroke-width="0.9"/>
<text x="72.2" y="269.3" font-size="6.2" text-anchor="middle">1</text>
<line x1="92.2" y1="257.3" x2="92.2" y2="260.3" stroke="#231f20" stroke-width="0.9"/>
<text x="92.2" y="269.3" font-size="6.2" text-anchor="middle">2</text>
<line x1="112.2" y1="257.3" x2="112.2" y2="260.3" stroke="#231f20" stroke-width="0.9"/>
<text x="112.2" y="269.3" font-size="6.2" text-anchor="middle">3</text>
<line x1="132.2" y1="257.3" x2="132.2" y2="260.3" stroke="#231f20" stroke-width="0.9"/>
<text x="132.2" y="269.3" font-size="6.2" text-anchor="middle">4</text>
<line x1="152.2" y1="257.3" x2="152.2" y2="260.3" stroke="#231f20" stroke-width="0.9"/>
<text x="152.2" y="269.3" font-size="6.2" text-anchor="middle">5</text>
<text x="103.3" y="280.4" font-size="8.4" text-anchor="middle" textLength="28.2" lengthAdjust="spacingAndGlyphs">Time (min)</text>
<text x="0" y="0" font-size="8" text-anchor="middle" textLength="42.8" lengthAdjust="spacingAndGlyphs" transform="translate(29.1,222.45) rotate(-90)">Aggregation (%)</text>
<path d="M52.2 250.9 L52.87 251.23 L53.54 251.56 L54.21 251.86 L54.88 252.14 L55.56 252.38 L56.23 252.57 L56.9 252.71 L57.57 252.81 L58.24 252.88 L58.91 252.94 L59.58 252.99 L60.25 253.04 L60.92 253.08 L61.6 253.13 L62.27 253.18 L62.94 253.24 L63.61 253.31 L64.28 253.42 L64.95 253.58 L65.62 253.78 L66.29 254 L66.97 254.2 L67.64 254.38 L68.31 254.51 L68.98 254.55 L69.65 254.43 L70.32 254.14 L70.99 253.65 L71.66 253.06 L72.33 252.47 L73.01 251.79 L73.68 251.08 L74.35 250.19 L75.02 249.13 L75.69 247.93 L76.36 246.69 L77.03 245.45 L77.7 244.17 L78.37 242.78 L79.05 241.69 L79.72 240.56 L80.39 239.57 L81.06 238.68 L81.73 237.54 L82.4 237.04 L83.07 236 L83.74 235.43 L84.41 234.51 L85.09 234.04 L85.76 234.17 L86.43 233.61 L87.1 232.96 L87.77 232.6 L88.44 232.3 L89.11 232.17 L89.78 231.83 L90.46 231.58 L91.13 231.51 L91.8 231.11 L92.47 231.51 L93.14 230.79 L93.81 230.91 L94.48 230.38 L95.15 230.45 L95.82 230.44 L96.5 230.1 L97.17 230.25 L97.84 230.2 L98.51 230.3 L99.18 230.02 L99.85 229.92 L100.52 229.83 L101.19 230.05 L101.86 229.85 L102.54 230.04 L103.21 230.08 L103.88 229.97 L104.55 229.89 L105.22 230.16 L105.89 230.16 L106.56 230.15 L107.23 230.12 L107.9 230.32 L108.58 229.98 L109.25 230.25 L109.92 230.11 L110.59 230.35 L111.26 230.14 L111.93 230.15 L112.6 230.31 L113.27 229.87 L113.94 230.18 L114.62 229.94 L115.29 230.1 L115.96 230.4 L116.63 230.36 L117.3 230.22 L117.97 230.3 L118.64 230.31 L119.31 230.38 L119.99 230.67 L120.66 230.39 L121.33 230.77 L122 230.3 L122.67 230.51 L123.34 230.52 L124.01 230.44 L124.68 230.36 L125.35 230.68 L126.03 230.75 L126.7 230.64 L127.37 230.82 L128.04 230.64 L128.71 230.18 L129.38 230.67 L130.05 230.37 L130.72 230.75 L131.39 230.46 L132.07 230.58 L132.74 230.54 L133.41 230.44 L134.08 230.23 L134.75 230.52 L135.42 230.55 L136.09 230.76 L136.76 230.48 L137.43 230.64 L138.11 230.45 L138.78 230.62 L139.45 230.31 L140.12 231 L140.79 230.7 L141.46 230.49 L142.13 230.73 L142.8 230.82 L143.48 230.73 L144.15 230.94 L144.82 230.68 L145.49 230.27 L146.16 230.51 L146.83 230.93 L147.5 230.9 L148.17 230.82 L148.84 230.57 L149.52 230.92 L150.19 230.9 L150.86 230.62 L151.53 230.64 L152.2 230.87" fill="none" stroke="#3f922c" stroke-width="1.1" stroke-linejoin="round" stroke-dasharray="2.8 0.7"/>
<path d="M52.2 250.9 L52.87 251.29 L53.54 251.61 L54.21 251.89 L54.88 252.11 L55.56 252.29 L56.23 252.44 L56.9 252.54 L57.57 252.62 L58.24 252.67 L58.91 252.7 L59.58 252.72 L60.25 252.73 L60.92 252.73 L61.6 252.68 L62.27 252.53 L62.94 252.29 L63.61 251.98 L64.28 251.6 L64.95 251.16 L65.62 250.7 L66.29 250.2 L66.97 249.7 L67.64 249.19 L68.31 248.57 L68.98 247.83 L69.65 247 L70.32 246.11 L70.99 245.18 L71.66 244.25 L72.33 243.35 L73.01 242.49 L73.68 241.63 L74.35 240.71 L75.02 239.79 L75.69 238.9 L76.36 238.08 L77.03 237.37 L77.7 236.82 L78.37 236.34 L79.05 235.89 L79.72 235.47 L80.39 235.09 L81.06 234.75 L81.73 234.46 L82.4 234.23 L83.07 234.06 L83.74 233.93 L84.41 233.82 L85.09 233.72 L85.76 233.63 L86.43 233.56 L87.1 233.51 L87.77 233.48 L88.44 233.48 L89.11 233.49 L89.78 233.5 L90.46 233.52 L91.13 233.54 L91.8 233.56 L92.47 233.59 L93.14 233.62 L93.81 233.65 L94.48 233.68 L95.15 233.72 L95.82 233.76 L96.5 233.8 L97.17 233.84 L97.84 233.89 L98.51 233.93 L99.18 233.98 L99.85 234.02 L100.52 234.06 L101.19 234.11 L101.86 234.15 L102.54 234.19 L103.21 234.23 L103.88 234.26 L104.55 234.3 L105.22 234.33 L105.89 234.36 L106.56 234.39 L107.23 234.41 L107.9 234.43 L108.58 234.44 L109.25 234.45 L109.92 234.46 L110.59 234.46 L111.26 234.46 L111.93 234.46 L112.6 234.46 L113.27 234.46 L113.94 234.46 L114.62 234.46 L115.29 234.46 L115.96 234.46 L116.63 234.45 L117.3 234.45 L117.97 234.45 L118.64 234.45 L119.31 234.45 L119.99 234.45 L120.66 234.45 L121.33 234.45 L122 234.44 L122.67 234.44 L123.34 234.44 L124.01 234.44 L124.68 234.43 L125.35 234.43 L126.03 234.42 L126.7 234.42 L127.37 234.42 L128.04 234.41 L128.71 234.4 L129.38 234.4 L130.05 234.39 L130.72 234.39 L131.39 234.38 L132.07 234.37 L132.74 234.36 L133.41 234.35 L134.08 234.35 L134.75 234.34 L135.42 234.33 L136.09 234.31 L136.76 234.3 L137.43 234.29 L138.11 234.28 L138.78 234.27 L139.45 234.25 L140.12 234.24 L140.79 234.22 L141.46 234.21 L142.13 234.19 L142.8 234.17 L143.48 234.15 L144.15 234.14 L144.82 234.12 L145.49 234.1 L146.16 234.07 L146.83 234.05 L147.5 234.03 L148.17 234.01 L148.84 233.98 L149.52 233.96 L150.19 233.93 L150.86 233.9 L151.53 233.88 L152.2 233.85" fill="none" stroke="#ea1420" stroke-width="1.3" stroke-linejoin="round" stroke-dasharray="3 1.0"/>
<path d="M52.2 250.9 L52.87 250.91 L53.54 250.96 L54.21 251.02 L54.88 251.09 L55.56 251.17 L56.23 251.28 L56.9 251.47 L57.57 251.71 L58.24 251.98 L58.91 252.25 L59.58 252.48 L60.25 252.65 L60.92 252.73 L61.6 252.49 L62.27 251.75 L62.94 250.67 L63.61 249.43 L64.28 247.98 L64.95 245.9 L65.62 243.39 L66.29 240.66 L66.97 237.94 L67.64 235.4 L68.31 232.71 L68.98 229.96 L69.65 227.26 L70.32 224.91 L70.99 223 L71.66 221.4 L72.33 220.03 L73.01 218.75 L73.68 217.52 L74.35 216.56 L75.02 215.75 L75.69 214.64 L76.36 213.83 L77.03 213.58 L77.7 212.75 L78.37 211.9 L79.05 211.65 L79.72 211.29 L80.39 210.95 L81.06 210.63 L81.73 210.22 L82.4 209.96 L83.07 209.39 L83.74 209.32 L84.41 209.05 L85.09 208.96 L85.76 208.42 L86.43 208.36 L87.1 207.92 L87.77 207.34 L88.44 207.28 L89.11 207 L89.78 206.82 L90.46 206.69 L91.13 206.54 L91.8 206.4 L92.47 205.94 L93.14 206.3 L93.81 205.5 L94.48 205.74 L95.15 205.84 L95.82 205.66 L96.5 205.61 L97.17 205.27 L97.84 205.42 L98.51 204.81 L99.18 205.25 L99.85 205.56 L100.52 205.06 L101.19 205.32 L101.86 204.71 L102.54 204.33 L103.21 204.37 L103.88 204.85 L104.55 204.62 L105.22 203.87 L105.89 204.21 L106.56 204.24 L107.23 203.9 L107.9 203.47 L108.58 203.74 L109.25 204.02 L109.92 203.92 L110.59 203.82 L111.26 204.12 L111.93 204.21 L112.6 203.87 L113.27 204.11 L113.94 203.84 L114.62 203.76 L115.29 203.12 L115.96 203.96 L116.63 203.73 L117.3 203.71 L117.97 203.52 L118.64 203.32 L119.31 203.71 L119.99 203.77 L120.66 203.97 L121.33 203.75 L122 203.32 L122.67 203.42 L123.34 203.69 L124.01 203.49 L124.68 203.35 L125.35 203.19 L126.03 203.47 L126.7 203.35 L127.37 203.76 L128.04 203.55 L128.71 202.77 L129.38 203.79 L130.05 203.26 L130.72 203.09 L131.39 203.23 L132.07 203.33 L132.74 203.1 L133.41 203.07 L134.08 203.07 L134.75 203.55 L135.42 203.05 L136.09 203.23 L136.76 203.13 L137.43 202.9 L138.11 202.77 L138.78 202.69 L139.45 203.06 L140.12 202.65 L140.79 202.57 L141.46 202.57 L142.13 202.49 L142.8 202.9 L143.48 202.9 L144.15 202.62 L144.82 203.21 L145.49 202.77 L146.16 202.97 L146.83 202.91 L147.5 203.28 L148.17 203.05 L148.84 202.8 L149.52 202.55 L150.19 202.52 L150.86 202.81 L151.53 202.84 L152.2 203.02" fill="none" stroke="#2424e8" stroke-width="1.2" stroke-linejoin="round"/>
<path d="M52.2 250.9 L52.87 250.91 L53.54 250.96 L54.21 251.02 L54.88 251.09 L55.56 251.17 L56.23 251.28 L56.9 251.47 L57.57 251.71 L58.24 251.98 L58.91 252.25 L59.58 252.48 L60.25 252.65 L60.92 252.73 L61.6 252.51 L62.27 251.84 L62.94 250.85 L63.61 249.71 L64.28 248.34 L64.95 246.34 L65.62 243.89 L66.29 241.21 L66.97 238.53 L67.64 236.02 L68.31 233.35 L68.98 230.56 L69.65 227.87 L70.32 225.52 L70.99 223.56 L71.66 222.05 L72.33 220.69 L73.01 219.19 L73.68 218.13 L74.35 217.16 L75.02 216.1 L75.69 215.18 L76.36 214.47 L77.03 214.25 L77.7 213.26 L78.37 212.65 L79.05 212.28 L79.72 211.54 L80.39 210.85 L81.06 210.89 L81.73 210.72 L82.4 209.43 L83.07 209.87 L83.74 209.83 L84.41 209.06 L85.09 208.71 L85.76 208.86 L86.43 208.04 L87.1 208.29 L87.77 208.24 L88.44 207.55 L89.11 207.08 L89.78 207.47 L90.46 206.86 L91.13 206.85 L91.8 205.43 L92.47 206.77 L93.14 205.72 L93.81 206.2 L94.48 206.1 L95.15 205.61 L95.82 205.42 L96.5 205.14 L97.17 205.42 L97.84 205.7 L98.51 205.56 L99.18 205.01 L99.85 204.87 L100.52 204.42 L101.19 204.74 L101.86 204.37 L102.54 204.09 L103.21 204.57 L103.88 205.2 L104.55 204.99 L105.22 205.02 L105.89 203.66 L106.56 204.64 L107.23 203.69 L107.9 203.91 L108.58 203.38 L109.25 203.63 L109.92 204.07 L110.59 204.07 L111.26 203.92 L111.93 203.84 L112.6 204.11 L113.27 203.86 L113.94 203.13 L114.62 204.51 L115.29 203.64 L115.96 204.11 L116.63 203.61 L117.3 203.3 L117.97 203.65 L118.64 203.27 L119.31 204.24 L119.99 203.07 L120.66 203.77 L121.33 203.21 L122 203.37 L122.67 204.53 L123.34 203.72 L124.01 203.28 L124.68 202.68 L125.35 203.2 L126.03 203.19 L126.7 203.87 L127.37 202.64 L128.04 202.45 L128.71 203.19 L129.38 203.27 L130.05 203.85 L130.72 202.76 L131.39 201.96 L132.07 202.79 L132.74 202.54 L133.41 202.83 L134.08 203.46 L134.75 202.45 L135.42 203.53 L136.09 203.08 L136.76 202.85 L137.43 202.58 L138.11 202.77 L138.78 202.76 L139.45 203.24 L140.12 203.45 L140.79 202.87 L141.46 203.18 L142.13 203.43 L142.8 203.4 L143.48 203.06 L144.15 203.63 L144.82 203.41 L145.49 203.52 L146.16 202.74 L146.83 202.64 L147.5 201.95 L148.17 203.44 L148.84 203.09 L149.52 202.41 L150.19 202.88 L150.86 202.93 L151.53 202.06 L152.2 202.93" fill="none" stroke="#141414" stroke-width="1.3" stroke-linejoin="round"/>
<line x1="200.5" y1="187.4" x2="200.5" y2="257.65" stroke="#111" stroke-width="1.3"/>
<line x1="197.5" y1="251.1" x2="200.5" y2="251.1" stroke="#231f20" stroke-width="0.9"/>
<text x="194.3" y="253.4" font-size="6.5" text-anchor="end">0</text>
<line x1="197.5" y1="238.82" x2="200.5" y2="238.82" stroke="#231f20" stroke-width="0.9"/>
<text x="194.3" y="241.12" font-size="6.5" text-anchor="end">20</text>
<line x1="197.5" y1="226.54" x2="200.5" y2="226.54" stroke="#231f20" stroke-width="0.9"/>
<text x="194.3" y="228.84" font-size="6.5" text-anchor="end">40</text>
<line x1="197.5" y1="214.26" x2="200.5" y2="214.26" stroke="#231f20" stroke-width="0.9"/>
<text x="194.3" y="216.56" font-size="6.5" text-anchor="end">60</text>
<line x1="197.5" y1="201.98" x2="200.5" y2="201.98" stroke="#231f20" stroke-width="0.9"/>
<text x="194.3" y="204.28" font-size="6.5" text-anchor="end">80</text>
<line x1="197.5" y1="189.7" x2="200.5" y2="189.7" stroke="#231f20" stroke-width="0.9"/>
<text x="194.3" y="192" font-size="6.5" text-anchor="end">100</text>
<line x1="199.85" y1="257" x2="303.8" y2="257" stroke="#111" stroke-width="1.3"/>
<line x1="200.5" y1="257" x2="200.5" y2="260" stroke="#231f20" stroke-width="0.9"/>
<text x="200.5" y="269" font-size="6.2" text-anchor="middle">0</text>
<line x1="220.6" y1="257" x2="220.6" y2="260" stroke="#231f20" stroke-width="0.9"/>
<text x="220.6" y="269" font-size="6.2" text-anchor="middle">1</text>
<line x1="240.7" y1="257" x2="240.7" y2="260" stroke="#231f20" stroke-width="0.9"/>
<text x="240.7" y="269" font-size="6.2" text-anchor="middle">2</text>
<line x1="260.8" y1="257" x2="260.8" y2="260" stroke="#231f20" stroke-width="0.9"/>
<text x="260.8" y="269" font-size="6.2" text-anchor="middle">3</text>
<line x1="280.9" y1="257" x2="280.9" y2="260" stroke="#231f20" stroke-width="0.9"/>
<text x="280.9" y="269" font-size="6.2" text-anchor="middle">4</text>
<line x1="301" y1="257" x2="301" y2="260" stroke="#231f20" stroke-width="0.9"/>
<text x="301" y="269" font-size="6.2" text-anchor="middle">5</text>
<text x="251.55" y="280.1" font-size="8.4" text-anchor="middle" textLength="28.4" lengthAdjust="spacingAndGlyphs">Time (min)</text>
<text x="0" y="0" font-size="8" text-anchor="middle" textLength="42.8" lengthAdjust="spacingAndGlyphs" transform="translate(177.4,222.4) rotate(-90)">Aggregation (%)</text>
<path d="M200.5 251.1 L201.17 248.72 L201.85 246.42 L202.52 244.23 L203.2 242.16 L203.87 240.22 L204.55 238.33 L205.22 236.46 L205.9 234.65 L206.57 232.95 L207.24 231.4 L207.92 230.04 L208.59 228.91 L209.27 227.98 L209.94 227.17 L210.62 226.45 L211.29 225.77 L211.97 225.1 L212.64 224.4 L213.32 223.67 L213.99 222.92 L214.66 222.21 L215.34 221.54 L216.01 220.94 L216.69 220.46 L217.36 220.07 L218.04 219.77 L218.71 219.44 L219.39 219.22 L220.06 219.05 L220.73 218.51 L221.41 218.33 L222.08 217.93 L222.76 217.84 L223.43 217.33 L224.11 217.05 L224.78 216.86 L225.46 216.9 L226.13 216.93 L226.81 216.69 L227.48 216.89 L228.15 216.74 L228.83 216.38 L229.5 216.49 L230.18 216.28 L230.85 216.2 L231.53 215.72 L232.2 215.77 L232.88 216.01 L233.55 215.67 L234.22 216.09 L234.9 215.95 L235.57 215.59 L236.25 216.12 L236.92 215.82 L237.6 216.07 L238.27 215.62 L238.95 215.16 L239.62 215.76 L240.3 215.43 L240.97 215.66 L241.64 215.63 L242.32 215.54 L242.99 214.68 L243.67 214.3 L244.34 214.69 L245.02 214.89 L245.69 214.37 L246.37 214.55 L247.04 214.14 L247.71 214.2 L248.39 214.14 L249.06 214 L249.74 214.27 L250.41 214.17 L251.09 214.48 L251.76 214.08 L252.44 214.31 L253.11 213.91 L253.79 214.09 L254.46 213.76 L255.13 213.62 L255.81 214.1 L256.48 213.9 L257.16 213.9 L257.83 213.4 L258.51 213.1 L259.18 213.3 L259.86 213.6 L260.53 213.07 L261.2 213.86 L261.88 213 L262.55 213.57 L263.23 214.13 L263.9 212.6 L264.58 212.87 L265.25 213.56 L265.93 213.2 L266.6 213.28 L267.28 213.16 L267.95 213.57 L268.62 213.32 L269.3 212.97 L269.97 213.01 L270.65 212.71 L271.32 212.99 L272 212.33 L272.67 213.15 L273.35 212.85 L274.02 213.42 L274.69 213.2 L275.37 212.46 L276.04 213.05 L276.72 212.62 L277.39 212.75 L278.07 212.99 L278.74 212.77 L279.42 212.79 L280.09 212.75 L280.77 212.38 L281.44 212.38 L282.11 212.69 L282.79 212.75 L283.46 212.39 L284.14 212.47 L284.81 212.13 L285.49 211.65 L286.16 212.13 L286.84 212.34 L287.51 212.35 L288.18 212.51 L288.86 212.5 L289.53 212.5 L290.21 212.31 L290.88 212.29 L291.56 211.94 L292.23 212.23 L292.91 212.15 L293.58 212.4 L294.26 211.59 L294.93 211.88 L295.6 211.5 L296.28 211.75 L296.95 211.53 L297.63 211.99 L298.3 211.7 L298.98 211.13 L299.65 212.19 L300.33 211.5 L301 211.33" fill="none" stroke="#2424e8" stroke-width="1.2" stroke-linejoin="round"/>
<path d="M200.5 251.1 L201.17 252.02 L201.85 252.77 L202.52 253.36 L203.2 253.81 L203.87 254.14 L204.55 254.35 L205.22 254.45 L205.9 254.47 L206.57 254.26 L207.24 253.84 L207.92 253.26 L208.59 252.58 L209.27 251.33 L209.94 249.36 L210.62 246.95 L211.29 244.38 L211.97 241.92 L212.64 239.81 L213.32 237.77 L213.99 235.75 L214.66 233.8 L215.34 231.95 L216.01 230.25 L216.69 228.61 L217.36 227.06 L218.04 225.62 L218.71 224.56 L219.39 223.47 L220.06 222.41 L220.73 221.66 L221.41 220.9 L222.08 220.15 L222.76 219.66 L223.43 218.91 L224.11 218.88 L224.78 218.2 L225.46 218.27 L226.13 217.58 L226.81 217.46 L227.48 217.79 L228.15 216.93 L228.83 216.97 L229.5 216.58 L230.18 215.77 L230.85 216.35 L231.53 216.13 L232.2 215.07 L232.88 215.32 L233.55 214.6 L234.22 214.87 L234.9 215.2 L235.57 214.74 L236.25 214.07 L236.92 214.1 L237.6 214.43 L238.27 214.34 L238.95 214.34 L239.62 214.48 L240.3 213.32 L240.97 214.11 L241.64 214.57 L242.32 214.23 L242.99 213.65 L243.67 213.65 L244.34 213.95 L245.02 214.14 L245.69 213.79 L246.37 214.49 L247.04 214.29 L247.71 213.31 L248.39 213.82 L249.06 213.4 L249.74 212.97 L250.41 213.17 L251.09 213.4 L251.76 212.42 L252.44 213.01 L253.11 213.41 L253.79 212.88 L254.46 212.97 L255.13 213.48 L255.81 213.02 L256.48 213.07 L257.16 213.82 L257.83 212.98 L258.51 212.98 L259.18 213 L259.86 213.48 L260.53 212.87 L261.2 212.68 L261.88 212.57 L262.55 213.07 L263.23 212.25 L263.9 213.02 L264.58 212.54 L265.25 211.82 L265.93 212.67 L266.6 212.55 L267.28 211.81 L267.95 212.42 L268.62 212.35 L269.3 212.08 L269.97 211.69 L270.65 213.09 L271.32 212.46 L272 212.51 L272.67 212.51 L273.35 212.38 L274.02 212.35 L274.69 211.82 L275.37 212.31 L276.04 211.84 L276.72 211.69 L277.39 212.16 L278.07 211.76 L278.74 211.07 L279.42 211.62 L280.09 212.01 L280.77 211.74 L281.44 212.09 L282.11 211.54 L282.79 211.26 L283.46 211.97 L284.14 211.68 L284.81 211.07 L285.49 211.76 L286.16 211.44 L286.84 211.95 L287.51 211.84 L288.18 211.68 L288.86 210.5 L289.53 211.59 L290.21 211.63 L290.88 211.62 L291.56 211.43 L292.23 211.06 L292.91 211.25 L293.58 210.43 L294.26 211.21 L294.93 210.66 L295.6 211.15 L296.28 211 L296.95 211.87 L297.63 211.29 L298.3 211.25 L298.98 211.32 L299.65 212.13 L300.33 210.82 L301 211.36" fill="none" stroke="#141414" stroke-width="1.3" stroke-linejoin="round"/>
<path d="M200.5 251.41 L201.17 252.18 L201.85 252.89 L202.52 253.53 L203.2 254.1 L203.87 254.59 L204.55 254.99 L205.22 255.29 L205.9 255.49 L206.57 255.58 L207.24 255.56 L207.92 255.46 L208.59 255.3 L209.27 255.09 L209.94 254.85 L210.62 254.58 L211.29 254.3 L211.97 254.02 L212.64 253.75 L213.32 253.44 L213.99 253.09 L214.66 252.71 L215.34 252.31 L216.01 251.89 L216.69 251.47 L217.36 251.08 L218.04 250.66 L218.71 250.33 L219.39 249.98 L220.06 249.65 L220.73 249.35 L221.41 249.04 L222.08 248.71 L222.76 248.34 L223.43 248 L224.11 247.71 L224.78 247.56 L225.46 247.3 L226.13 247.09 L226.81 246.77 L227.48 246.83 L228.15 246.31 L228.83 246.32 L229.5 246.19 L230.18 245.9 L230.85 245.66 L231.53 245.61 L232.2 245.39 L232.88 245.41 L233.55 245.16 L234.22 245.08 L234.9 245.26 L235.57 244.95 L236.25 245.13 L236.92 245.11 L237.6 245.27 L238.27 245.12 L238.95 244.9 L239.62 245.26 L240.3 244.87 L240.97 244.91 L241.64 244.9 L242.32 245.34 L242.99 244.93 L243.67 244.77 L244.34 245.02 L245.02 244.84 L245.69 245.28 L246.37 244.7 L247.04 244.92 L247.71 244.62 L248.39 245.1 L249.06 244.61 L249.74 244.76 L250.41 244.55 L251.09 244.85 L251.76 244.77 L252.44 244.22 L253.11 244.77 L253.79 244.73 L254.46 244.63 L255.13 244.74 L255.81 244.32 L256.48 244.2 L257.16 244.62 L257.83 244.79 L258.51 244.24 L259.18 244.23 L259.86 244.26 L260.53 244.18 L261.2 244.53 L261.88 244.39 L262.55 244.59 L263.23 244.58 L263.9 244.12 L264.58 244.4 L265.25 243.84 L265.93 244.22 L266.6 244.34 L267.28 244.05 L267.95 243.85 L268.62 244.07 L269.3 244.37 L269.97 244.06 L270.65 243.85 L271.32 244.18 L272 244.21 L272.67 243.87 L273.35 244.01 L274.02 244.22 L274.69 244.07 L275.37 244.12 L276.04 243.91 L276.72 243.93 L277.39 243.72 L278.07 243.78 L278.74 244.18 L279.42 243.8 L280.09 243.7 L280.77 243.76 L281.44 243.64 L282.11 243.91 L282.79 243.97 L283.46 243.61 L284.14 243.96 L284.81 244.15 L285.49 243.54 L286.16 243.85 L286.84 243.76 L287.51 243.95 L288.18 243.92 L288.86 243.87 L289.53 243.71 L290.21 243.56 L290.88 244.04 L291.56 243.46 L292.23 243.81 L292.91 243.77 L293.58 243.44 L294.26 243.56 L294.93 243.82 L295.6 243.18 L296.28 243.67 L296.95 243.45 L297.63 243.45 L298.3 243.21 L298.98 243.54 L299.65 243.26 L300.33 243.57 L301 243.22" fill="none" stroke="#3f922c" stroke-width="1.1" stroke-linejoin="round" stroke-dasharray="2.8 0.7"/>
<path d="M200.5 251.41 L201.17 252.18 L201.85 252.89 L202.52 253.53 L203.2 254.1 L203.87 254.59 L204.55 254.99 L205.22 255.29 L205.9 255.49 L206.57 255.58 L207.24 255.56 L207.92 255.46 L208.59 255.3 L209.27 255.09 L209.94 254.85 L210.62 254.58 L211.29 254.3 L211.97 254.02 L212.64 253.75 L213.32 253.44 L213.99 253.09 L214.66 252.71 L215.34 252.31 L216.01 251.89 L216.69 251.47 L217.36 251.06 L218.04 250.67 L218.71 250.3 L219.39 249.96 L220.06 249.63 L220.73 249.3 L221.41 248.98 L222.08 248.66 L222.76 248.34 L223.43 248.04 L224.11 247.75 L224.78 247.48 L225.46 247.23 L226.13 247.01 L226.81 246.81 L227.48 246.63 L228.15 246.45 L228.83 246.27 L229.5 246.1 L230.18 245.94 L230.85 245.79 L231.53 245.66 L232.2 245.54 L232.88 245.43 L233.55 245.35 L234.22 245.28 L234.9 245.24 L235.57 245.2 L236.25 245.16 L236.92 245.13 L237.6 245.1 L238.27 245.07 L238.95 245.04 L239.62 245.01 L240.3 244.99 L240.97 244.97 L241.64 244.95 L242.32 244.93 L242.99 244.91 L243.67 244.89 L244.34 244.88 L245.02 244.86 L245.69 244.84 L246.37 244.82 L247.04 244.8 L247.71 244.78 L248.39 244.76 L249.06 244.74 L249.74 244.72 L250.41 244.7 L251.09 244.68 L251.76 244.66 L252.44 244.64 L253.11 244.62 L253.79 244.6 L254.46 244.58 L255.13 244.55 L255.81 244.53 L256.48 244.51 L257.16 244.49 L257.83 244.47 L258.51 244.45 L259.18 244.43 L259.86 244.41 L260.53 244.39 L261.2 244.37 L261.88 244.35 L262.55 244.33 L263.23 244.32 L263.9 244.3 L264.58 244.28 L265.25 244.26 L265.93 244.24 L266.6 244.22 L267.28 244.2 L267.95 244.18 L268.62 244.16 L269.3 244.14 L269.97 244.13 L270.65 244.11 L271.32 244.09 L272 244.07 L272.67 244.05 L273.35 244.03 L274.02 244.02 L274.69 244 L275.37 243.98 L276.04 243.96 L276.72 243.95 L277.39 243.93 L278.07 243.91 L278.74 243.9 L279.42 243.88 L280.09 243.86 L280.77 243.85 L281.44 243.83 L282.11 243.81 L282.79 243.8 L283.46 243.78 L284.14 243.76 L284.81 243.75 L285.49 243.73 L286.16 243.72 L286.84 243.7 L287.51 243.69 L288.18 243.67 L288.86 243.66 L289.53 243.64 L290.21 243.63 L290.88 243.62 L291.56 243.6 L292.23 243.59 L292.91 243.57 L293.58 243.56 L294.26 243.55 L294.93 243.53 L295.6 243.52 L296.28 243.51 L296.95 243.5 L297.63 243.48 L298.3 243.47 L298.98 243.46 L299.65 243.45 L300.33 243.44 L301 243.42" fill="none" stroke="#ea1420" stroke-width="1.3" stroke-linejoin="round" stroke-dasharray="3 1.0"/>
<rect x="353" y="216.81" width="5.4" height="40.19" fill="#502466"/>
<line x1="355.7" y1="214.42" x2="355.7" y2="216.81" stroke="#231f20" stroke-width="1"/>
<line x1="354" y1="214.42" x2="357.4" y2="214.42" stroke="#231f20" stroke-width="1"/>
<rect x="361.1" y="215.39" width="5.5" height="41.61" fill="#6aa8de"/>
<line x1="363.85" y1="213.11" x2="363.85" y2="215.39" stroke="#231f20" stroke-width="1"/>
<line x1="362.15" y1="213.11" x2="365.55" y2="213.11" stroke="#231f20" stroke-width="1"/>
<rect x="375.05" y="240.47" width="5.4" height="16.53" fill="#502466"/>
<line x1="377.75" y1="233.06" x2="377.75" y2="240.47" stroke="#231f20" stroke-width="1"/>
<line x1="376.05" y1="233.06" x2="379.45" y2="233.06" stroke="#231f20" stroke-width="1"/>
<rect x="383.2" y="222.8" width="5.5" height="34.2" fill="#6aa8de"/>
<line x1="385.95" y1="217.67" x2="385.95" y2="222.8" stroke="#231f20" stroke-width="1"/>
<line x1="384.25" y1="217.67" x2="387.65" y2="217.67" stroke="#231f20" stroke-width="1"/>
<rect x="397.1" y="246.17" width="5.4" height="10.83" fill="#502466"/>
<line x1="399.8" y1="241.9" x2="399.8" y2="246.17" stroke="#231f20" stroke-width="1"/>
<line x1="398.1" y1="241.9" x2="401.5" y2="241.9" stroke="#231f20" stroke-width="1"/>
<rect x="405.3" y="245.03" width="5.5" height="11.97" fill="#6aa8de"/>
<line x1="408.05" y1="240.75" x2="408.05" y2="245.03" stroke="#231f20" stroke-width="1"/>
<line x1="406.35" y1="240.75" x2="409.75" y2="240.75" stroke="#231f20" stroke-width="1"/>
<rect x="419.15" y="248.16" width="5.4" height="8.84" fill="#502466"/>
<line x1="421.85" y1="247.03" x2="421.85" y2="248.16" stroke="#231f20" stroke-width="1"/>
<line x1="420.15" y1="247.03" x2="423.55" y2="247.03" stroke="#231f20" stroke-width="1"/>
<rect x="427.4" y="247.03" width="5.5" height="9.97" fill="#6aa8de"/>
<line x1="430.15" y1="245.43" x2="430.15" y2="247.03" stroke="#231f20" stroke-width="1"/>
<line x1="428.45" y1="245.43" x2="431.85" y2="245.43" stroke="#231f20" stroke-width="1"/>
<line x1="349.7" y1="197.6" x2="349.7" y2="257.65" stroke="#111" stroke-width="1.3"/>
<line x1="346.7" y1="257" x2="349.7" y2="257" stroke="#231f20" stroke-width="0.9"/>
<text x="343.4" y="259.3" font-size="6.7" text-anchor="end">0</text>
<line x1="346.7" y1="245.6" x2="349.7" y2="245.6" stroke="#231f20" stroke-width="0.9"/>
<text x="343.4" y="247.9" font-size="6.7" text-anchor="end">20</text>
<line x1="346.7" y1="234.2" x2="349.7" y2="234.2" stroke="#231f20" stroke-width="0.9"/>
<text x="343.4" y="236.5" font-size="6.7" text-anchor="end">40</text>
<line x1="346.7" y1="222.8" x2="349.7" y2="222.8" stroke="#231f20" stroke-width="0.9"/>
<text x="343.4" y="225.1" font-size="6.7" text-anchor="end">60</text>
<line x1="346.7" y1="211.4" x2="349.7" y2="211.4" stroke="#231f20" stroke-width="0.9"/>
<text x="343.4" y="213.7" font-size="6.7" text-anchor="end">80</text>
<line x1="346.7" y1="200" x2="349.7" y2="200" stroke="#231f20" stroke-width="0.9"/>
<text x="343.4" y="202.3" font-size="6.7" text-anchor="end">100</text>
<line x1="349.05" y1="257" x2="435.7" y2="257" stroke="#111" stroke-width="1.3"/>
<text x="0" y="0" font-size="9" text-anchor="middle" textLength="62.3" lengthAdjust="spacingAndGlyphs" transform="translate(327,228.5) rotate(-90)">Final aggregation (%)</text>
<rect x="351.1" y="186.9" width="7.1" height="4.7" fill="#502466"/>
<rect x="351.1" y="193.7" width="7.1" height="4.7" fill="#6aa8de"/>
<text x="361" y="191.5" font-size="5.6" textLength="25" lengthAdjust="spacingAndGlyphs">Vehicle ctrl</text>
<text x="361" y="198.4" font-size="5.6" textLength="24" lengthAdjust="spacingAndGlyphs">GSK3787</text>
<path d="M377.6 229.3 V208 H385.8 V211.8" fill="none" stroke="#1a1a1a" stroke-width="1.05"/>
<text x="381.7" y="207" font-size="5.5" text-anchor="middle">***</text>
<text x="0" y="0" font-size="6.9" text-anchor="end" textLength="19.5" lengthAdjust="spacingAndGlyphs" transform="translate(362.3,264.4) rotate(-45)">DMSO</text>
<text x="0" y="0" font-size="6.9" text-anchor="end" textLength="24.5" lengthAdjust="spacingAndGlyphs" transform="translate(384.4,264.4) rotate(-45)">GW0742</text>
<text x="0" y="0" font-size="6.9" text-anchor="end" textLength="30" lengthAdjust="spacingAndGlyphs" transform="translate(406.4,264.7) rotate(-45)">11-HpDPA</text>
<text x="0" y="0" font-size="6.9" text-anchor="end" textLength="30" lengthAdjust="spacingAndGlyphs" transform="translate(428.5,264.7) rotate(-45)">14-HpDPA</text>
<text x="7" y="311.5" font-size="11.8" font-weight="bold">C</text>
<text x="170.8" y="299.6" font-size="8.6" textLength="24.6" lengthAdjust="spacingAndGlyphs">PPARγ</text>
<text x="80.5" y="309.2" font-size="8.3" textLength="38.5" lengthAdjust="spacingAndGlyphs">11-HpDPA</text>
<text x="119.3" y="311.6" font-size="5.15" textLength="8.5" lengthAdjust="spacingAndGlyphs">n-6</text>
<text x="228.2" y="311.1" font-size="8.3" textLength="38.5" lengthAdjust="spacingAndGlyphs">14-HpDPA</text>
<text x="267" y="313.5" font-size="5.15" textLength="8.5" lengthAdjust="spacingAndGlyphs">n-6</text>
<line x1="52.2" y1="317.3" x2="52.2" y2="387.95" stroke="#111" stroke-width="1.3"/>
<line x1="49.2" y1="380.9" x2="52.2" y2="380.9" stroke="#231f20" stroke-width="0.9"/>
<text x="46" y="383.2" font-size="6.5" text-anchor="end">0</text>
<line x1="49.2" y1="368.72" x2="52.2" y2="368.72" stroke="#231f20" stroke-width="0.9"/>
<text x="46" y="371.02" font-size="6.5" text-anchor="end">20</text>
<line x1="49.2" y1="356.54" x2="52.2" y2="356.54" stroke="#231f20" stroke-width="0.9"/>
<text x="46" y="358.84" font-size="6.5" text-anchor="end">40</text>
<line x1="49.2" y1="344.36" x2="52.2" y2="344.36" stroke="#231f20" stroke-width="0.9"/>
<text x="46" y="346.66" font-size="6.5" text-anchor="end">60</text>
<line x1="49.2" y1="332.18" x2="52.2" y2="332.18" stroke="#231f20" stroke-width="0.9"/>
<text x="46" y="334.48" font-size="6.5" text-anchor="end">80</text>
<line x1="49.2" y1="320" x2="52.2" y2="320" stroke="#231f20" stroke-width="0.9"/>
<text x="46" y="322.3" font-size="6.5" text-anchor="end">100</text>
<line x1="51.55" y1="387.3" x2="155.6" y2="387.3" stroke="#111" stroke-width="1.3"/>
<line x1="52.2" y1="387.3" x2="52.2" y2="390.3" stroke="#231f20" stroke-width="0.9"/>
<text x="52.2" y="399.3" font-size="6.2" text-anchor="middle">0</text>
<line x1="72.2" y1="387.3" x2="72.2" y2="390.3" stroke="#231f20" stroke-width="0.9"/>
<text x="72.2" y="399.3" font-size="6.2" text-anchor="middle">1</text>
<line x1="92.2" y1="387.3" x2="92.2" y2="390.3" stroke="#231f20" stroke-width="0.9"/>
<text x="92.2" y="399.3" font-size="6.2" text-anchor="middle">2</text>
<line x1="112.2" y1="387.3" x2="112.2" y2="390.3" stroke="#231f20" stroke-width="0.9"/>
<text x="112.2" y="399.3" font-size="6.2" text-anchor="middle">3</text>
<line x1="132.2" y1="387.3" x2="132.2" y2="390.3" stroke="#231f20" stroke-width="0.9"/>
<text x="132.2" y="399.3" font-size="6.2" text-anchor="middle">4</text>
<line x1="152.2" y1="387.3" x2="152.2" y2="390.3" stroke="#231f20" stroke-width="0.9"/>
<text x="152.2" y="399.3" font-size="6.2" text-anchor="middle">5</text>
<text x="103.3" y="410.4" font-size="8.4" text-anchor="middle" textLength="28.2" lengthAdjust="spacingAndGlyphs">Time (min)</text>
<text x="0" y="0" font-size="8" text-anchor="middle" textLength="42.8" lengthAdjust="spacingAndGlyphs" transform="translate(29.1,352.45) rotate(-90)">Aggregation (%)</text>
<path d="M52.2 380.9 L52.87 380.98 L53.54 381.08 L54.21 381.2 L54.88 381.33 L55.56 381.47 L56.23 381.63 L56.9 381.79 L57.57 381.99 L58.24 382.27 L58.91 382.58 L59.58 382.88 L60.25 383.13 L60.92 383.3 L61.6 383.32 L62.27 383.1 L62.94 382.64 L63.61 381.98 L64.28 381.19 L64.95 380.13 L65.62 378.02 L66.29 375.19 L66.97 372.13 L67.64 369.31 L68.31 366.92 L68.98 364.51 L69.65 362.18 L70.32 360.06 L70.99 358.25 L71.66 356.79 L72.33 355.55 L73.01 354.37 L73.68 353.3 L74.35 352.33 L75.02 351.4 L75.69 350.61 L76.36 349.79 L77.03 348.83 L77.7 348.06 L78.37 347.23 L79.05 346.57 L79.72 345.81 L80.39 345.23 L81.06 344.71 L81.73 344.26 L82.4 343.83 L83.07 343.43 L83.74 343.04 L84.41 342.6 L85.09 342.4 L85.76 341.84 L86.43 341.74 L87.1 341.33 L87.77 341.2 L88.44 340.98 L89.11 340.48 L89.78 340.57 L90.46 340.5 L91.13 340.25 L91.8 340.03 L92.47 339.56 L93.14 339.65 L93.81 339.41 L94.48 339.51 L95.15 339.21 L95.82 339.04 L96.5 338.77 L97.17 338.96 L97.84 338.68 L98.51 338.6 L99.18 338.66 L99.85 338.42 L100.52 338.35 L101.19 338.49 L101.86 338.03 L102.54 337.93 L103.21 337.95 L103.88 337.96 L104.55 337.52 L105.22 337.58 L105.89 337.39 L106.56 337.26 L107.23 337.42 L107.9 337.17 L108.58 337.23 L109.25 337.14 L109.92 337.09 L110.59 337.02 L111.26 336.83 L111.93 336.9 L112.6 336.89 L113.27 336.85 L113.94 336.73 L114.62 336.84 L115.29 336.75 L115.96 336.65 L116.63 336.67 L117.3 336.58 L117.97 336.6 L118.64 336.24 L119.31 336.29 L119.99 336.36 L120.66 336.39 L121.33 336.08 L122 336.28 L122.67 336.29 L123.34 336.21 L124.01 336.18 L124.68 336.01 L125.35 336.16 L126.03 335.87 L126.7 336.2 L127.37 335.98 L128.04 336.16 L128.71 335.78 L129.38 336.01 L130.05 335.95 L130.72 335.79 L131.39 335.72 L132.07 335.98 L132.74 335.85 L133.41 335.95 L134.08 335.72 L134.75 335.72 L135.42 335.72 L136.09 335.73 L136.76 335.66 L137.43 335.67 L138.11 335.48 L138.78 335.33 L139.45 335.72 L140.12 335.47 L140.79 335.47 L141.46 335.33 L142.13 335.48 L142.8 335.35 L143.48 335.43 L144.15 335.18 L144.82 335.22 L145.49 335.23 L146.16 335.13 L146.83 335.18 L147.5 335.31 L148.17 335.02 L148.84 335.03 L149.52 335.05 L150.19 334.88 L150.86 334.83 L151.53 335.08 L152.2 335.02" fill="none" stroke="#2424e8" stroke-width="1.2" stroke-linejoin="round"/>
<path d="M52.2 380.9 L52.87 380.96 L53.54 381.04 L54.21 381.12 L54.88 381.2 L55.56 381.29 L56.23 381.39 L56.9 381.49 L57.57 381.62 L58.24 381.78 L58.91 381.96 L59.58 382.12 L60.25 382.25 L60.92 382.3 L61.6 382.12 L62.27 381.54 L62.94 380.69 L63.61 379.68 L64.28 378.38 L64.95 376.31 L65.62 373.74 L66.29 370.96 L66.97 368.27 L67.64 365.91 L68.31 363.57 L68.98 361.22 L69.65 359.03 L70.32 357.08 L70.99 355.56 L71.66 354.19 L72.33 352.99 L73.01 351.78 L73.68 350.9 L74.35 350.1 L75.02 349.15 L75.69 348.25 L76.36 347.53 L77.03 346.71 L77.7 345.9 L78.37 345.1 L79.05 344.47 L79.72 343.93 L80.39 343.19 L81.06 342.87 L81.73 342.46 L82.4 342.19 L83.07 341.74 L83.74 341.18 L84.41 341.2 L85.09 340.65 L85.76 340.23 L86.43 340.15 L87.1 339.8 L87.77 339.83 L88.44 339.18 L89.11 339.05 L89.78 339.07 L90.46 339.32 L91.13 339.05 L91.8 338.54 L92.47 338.29 L93.14 338.46 L93.81 338.18 L94.48 338.44 L95.15 338.27 L95.82 338.15 L96.5 337.98 L97.17 338.27 L97.84 337.72 L98.51 337.57 L99.18 337.96 L99.85 337.92 L100.52 337.51 L101.19 337.61 L101.86 337.86 L102.54 337.16 L103.21 337.2 L103.88 337.24 L104.55 336.66 L105.22 336.95 L105.89 337.04 L106.56 336.8 L107.23 336.94 L107.9 336.82 L108.58 336.53 L109.25 336.64 L109.92 336.56 L110.59 336.09 L111.26 336.18 L111.93 336.14 L112.6 336.13 L113.27 336.08 L113.94 335.84 L114.62 336.07 L115.29 335.66 L115.96 336.15 L116.63 335.96 L117.3 336.13 L117.97 335.88 L118.64 335.66 L119.31 335.44 L119.99 335.8 L120.66 335.62 L121.33 335.65 L122 335.67 L122.67 335.72 L123.34 335.43 L124.01 335.73 L124.68 335.34 L125.35 335.31 L126.03 335.4 L126.7 335.43 L127.37 335.46 L128.04 334.8 L128.71 335.37 L129.38 334.78 L130.05 334.92 L130.72 335.07 L131.39 335.19 L132.07 334.73 L132.74 334.56 L133.41 335.03 L134.08 334.88 L134.75 334.58 L135.42 334.68 L136.09 334.33 L136.76 334.79 L137.43 334.54 L138.11 334.85 L138.78 334.17 L139.45 334.68 L140.12 334.93 L140.79 334.5 L141.46 334.47 L142.13 334.05 L142.8 334.45 L143.48 334.36 L144.15 334.21 L144.82 333.99 L145.49 334.28 L146.16 334.04 L146.83 334.11 L147.5 334.24 L148.17 334.14 L148.84 334.12 L149.52 334.28 L150.19 333.85 L150.86 334.32 L151.53 333.81 L152.2 333.82" fill="none" stroke="#141414" stroke-width="1.3" stroke-linejoin="round"/>
<path d="M52.2 380.9 L52.87 381.11 L53.54 381.29 L54.21 381.43 L54.88 381.54 L55.56 381.62 L56.23 381.67 L56.9 381.69 L57.57 381.66 L58.24 381.55 L58.91 381.4 L59.58 381.22 L60.25 381.06 L60.92 380.95 L61.6 380.9 L62.27 380.93 L62.94 381.01 L63.61 381.14 L64.28 381.3 L64.95 381.48 L65.62 381.67 L66.29 381.86 L66.97 382.04 L67.64 382.19 L68.31 382.32 L68.98 382.39 L69.65 382.43 L70.32 382.34 L70.99 382.2 L71.66 381.93 L72.33 381.59 L73.01 381.23 L73.68 380.85 L74.35 380.43 L75.02 380 L75.69 379.57 L76.36 379.16 L77.03 378.9 L77.7 378.45 L78.37 378.05 L79.05 377.65 L79.72 377.26 L80.39 376.83 L81.06 376.55 L81.73 376.25 L82.4 376.06 L83.07 375.79 L83.74 375.84 L84.41 375.45 L85.09 375.39 L85.76 375.24 L86.43 375.16 L87.1 375.12 L87.77 374.92 L88.44 374.89 L89.11 374.77 L89.78 374.93 L90.46 374.69 L91.13 374.79 L91.8 374.83 L92.47 374.87 L93.14 374.87 L93.81 374.9 L94.48 374.85 L95.15 374.81 L95.82 374.82 L96.5 374.93 L97.17 374.83 L97.84 374.88 L98.51 374.8 L99.18 374.66 L99.85 374.76 L100.52 374.84 L101.19 374.94 L101.86 374.93 L102.54 374.95 L103.21 374.75 L103.88 374.87 L104.55 374.8 L105.22 374.86 L105.89 374.8 L106.56 374.69 L107.23 374.87 L107.9 374.84 L108.58 374.88 L109.25 374.74 L109.92 374.89 L110.59 374.9 L111.26 374.92 L111.93 374.92 L112.6 374.76 L113.27 374.59 L113.94 374.87 L114.62 374.71 L115.29 374.75 L115.96 374.86 L116.63 374.78 L117.3 374.76 L117.97 374.79 L118.64 374.56 L119.31 374.86 L119.99 374.65 L120.66 374.64 L121.33 374.7 L122 374.62 L122.67 374.54 L123.34 374.58 L124.01 374.53 L124.68 374.49 L125.35 374.69 L126.03 374.38 L126.7 374.28 L127.37 374.36 L128.04 374.33 L128.71 374.5 L129.38 374.37 L130.05 374.4 L130.72 374.35 L131.39 374.19 L132.07 374.3 L132.74 374.21 L133.41 374.33 L134.08 374.15 L134.75 374.09 L135.42 374.12 L136.09 374.09 L136.76 373.83 L137.43 374.05 L138.11 374 L138.78 373.94 L139.45 373.74 L140.12 373.62 L140.79 373.73 L141.46 373.77 L142.13 373.7 L142.8 373.54 L143.48 373.66 L144.15 373.42 L144.82 373.38 L145.49 373.45 L146.16 373.35 L146.83 373.3 L147.5 373.19 L148.17 373.36 L148.84 373.12 L149.52 373.21 L150.19 373.19 L150.86 373.07 L151.53 373.05 L152.2 373.06" fill="none" stroke="#3f922c" stroke-width="1.1" stroke-linejoin="round" stroke-dasharray="2.8 0.7"/>
<path d="M52.2 380.9 L52.87 381.11 L53.54 381.29 L54.21 381.43 L54.88 381.54 L55.56 381.62 L56.23 381.67 L56.9 381.69 L57.57 381.66 L58.24 381.55 L58.91 381.4 L59.58 381.22 L60.25 381.06 L60.92 380.95 L61.6 380.9 L62.27 380.93 L62.94 381.01 L63.61 381.14 L64.28 381.3 L64.95 381.48 L65.62 381.67 L66.29 381.86 L66.97 382.04 L67.64 382.19 L68.31 382.32 L68.98 382.4 L69.65 382.42 L70.32 382.36 L70.99 382.19 L71.66 381.94 L72.33 381.61 L73.01 381.24 L73.68 380.83 L74.35 380.41 L75.02 379.98 L75.69 379.57 L76.36 379.2 L77.03 378.85 L77.7 378.47 L78.37 378.07 L79.05 377.67 L79.72 377.28 L80.39 376.91 L81.06 376.58 L81.73 376.3 L82.4 376.09 L83.07 375.9 L83.74 375.72 L84.41 375.54 L85.09 375.37 L85.76 375.22 L86.43 375.08 L87.1 374.97 L87.77 374.89 L88.44 374.83 L89.11 374.81 L89.78 374.81 L90.46 374.81 L91.13 374.81 L91.8 374.81 L92.47 374.81 L93.14 374.81 L93.81 374.81 L94.48 374.81 L95.15 374.81 L95.82 374.81 L96.5 374.81 L97.17 374.81 L97.84 374.81 L98.51 374.81 L99.18 374.81 L99.85 374.81 L100.52 374.81 L101.19 374.81 L101.86 374.81 L102.54 374.81 L103.21 374.81 L103.88 374.81 L104.55 374.81 L105.22 374.81 L105.89 374.81 L106.56 374.81 L107.23 374.81 L107.9 374.81 L108.58 374.81 L109.25 374.81 L109.92 374.81 L110.59 374.81 L111.26 374.81 L111.93 374.81 L112.6 374.8 L113.27 374.8 L113.94 374.79 L114.62 374.78 L115.29 374.78 L115.96 374.77 L116.63 374.76 L117.3 374.74 L117.97 374.73 L118.64 374.72 L119.31 374.7 L119.99 374.69 L120.66 374.67 L121.33 374.65 L122 374.63 L122.67 374.61 L123.34 374.59 L124.01 374.57 L124.68 374.55 L125.35 374.52 L126.03 374.5 L126.7 374.47 L127.37 374.44 L128.04 374.42 L128.71 374.39 L129.38 374.36 L130.05 374.33 L130.72 374.3 L131.39 374.27 L132.07 374.24 L132.74 374.2 L133.41 374.17 L134.08 374.13 L134.75 374.1 L135.42 374.06 L136.09 374.03 L136.76 373.99 L137.43 373.95 L138.11 373.91 L138.78 373.87 L139.45 373.83 L140.12 373.79 L140.79 373.75 L141.46 373.71 L142.13 373.67 L142.8 373.63 L143.48 373.58 L144.15 373.54 L144.82 373.5 L145.49 373.45 L146.16 373.41 L146.83 373.36 L147.5 373.32 L148.17 373.27 L148.84 373.22 L149.52 373.17 L150.19 373.13 L150.86 373.08 L151.53 373.03 L152.2 372.98" fill="none" stroke="#ea1420" stroke-width="1.3" stroke-linejoin="round" stroke-dasharray="3 1.0"/>
<line x1="200.4" y1="317.7" x2="200.4" y2="387.95" stroke="#111" stroke-width="1.3"/>
<line x1="197.4" y1="381.6" x2="200.4" y2="381.6" stroke="#231f20" stroke-width="0.9"/>
<text x="194.2" y="383.9" font-size="6.5" text-anchor="end">0</text>
<line x1="197.4" y1="369.26" x2="200.4" y2="369.26" stroke="#231f20" stroke-width="0.9"/>
<text x="194.2" y="371.56" font-size="6.5" text-anchor="end">20</text>
<line x1="197.4" y1="356.92" x2="200.4" y2="356.92" stroke="#231f20" stroke-width="0.9"/>
<text x="194.2" y="359.22" font-size="6.5" text-anchor="end">40</text>
<line x1="197.4" y1="344.58" x2="200.4" y2="344.58" stroke="#231f20" stroke-width="0.9"/>
<text x="194.2" y="346.88" font-size="6.5" text-anchor="end">60</text>
<line x1="197.4" y1="332.24" x2="200.4" y2="332.24" stroke="#231f20" stroke-width="0.9"/>
<text x="194.2" y="334.54" font-size="6.5" text-anchor="end">80</text>
<line x1="197.4" y1="319.9" x2="200.4" y2="319.9" stroke="#231f20" stroke-width="0.9"/>
<text x="194.2" y="322.2" font-size="6.5" text-anchor="end">100</text>
<line x1="199.75" y1="387.3" x2="304" y2="387.3" stroke="#111" stroke-width="1.3"/>
<line x1="200.4" y1="387.3" x2="200.4" y2="390.3" stroke="#231f20" stroke-width="0.9"/>
<text x="200.4" y="399.3" font-size="6.2" text-anchor="middle">0</text>
<line x1="220.5" y1="387.3" x2="220.5" y2="390.3" stroke="#231f20" stroke-width="0.9"/>
<text x="220.5" y="399.3" font-size="6.2" text-anchor="middle">1</text>
<line x1="240.6" y1="387.3" x2="240.6" y2="390.3" stroke="#231f20" stroke-width="0.9"/>
<text x="240.6" y="399.3" font-size="6.2" text-anchor="middle">2</text>
<line x1="260.7" y1="387.3" x2="260.7" y2="390.3" stroke="#231f20" stroke-width="0.9"/>
<text x="260.7" y="399.3" font-size="6.2" text-anchor="middle">3</text>
<line x1="280.8" y1="387.3" x2="280.8" y2="390.3" stroke="#231f20" stroke-width="0.9"/>
<text x="280.8" y="399.3" font-size="6.2" text-anchor="middle">4</text>
<line x1="300.9" y1="387.3" x2="300.9" y2="390.3" stroke="#231f20" stroke-width="0.9"/>
<text x="300.9" y="399.3" font-size="6.2" text-anchor="middle">5</text>
<text x="251.6" y="410.4" font-size="8.4" text-anchor="middle" textLength="28.5" lengthAdjust="spacingAndGlyphs">Time (min)</text>
<text x="0" y="0" font-size="8" text-anchor="middle" textLength="42.8" lengthAdjust="spacingAndGlyphs" transform="translate(177.3,352.75) rotate(-90)">Aggregation (%)</text>
<path d="M200.4 380.98 L201.07 381 L201.75 381.04 L202.42 381.09 L203.1 381.17 L203.77 381.26 L204.45 381.36 L205.12 381.55 L205.8 381.89 L206.47 382.32 L207.14 382.82 L207.82 383.34 L208.49 383.84 L209.17 384.27 L209.84 384.6 L210.52 384.78 L211.19 384.77 L211.87 384.52 L212.54 384.05 L213.22 383.43 L213.89 382.7 L214.56 381.9 L215.24 381.1 L215.91 380.33 L216.59 379.64 L217.26 378.97 L217.94 378.27 L218.61 377.55 L219.29 376.83 L219.96 376.13 L220.63 375.49 L221.31 374.89 L221.98 374.29 L222.66 373.74 L223.33 373.23 L224.01 372.62 L224.68 372.12 L225.36 371.68 L226.03 371.15 L226.71 370.77 L227.38 370.26 L228.05 369.93 L228.73 369.6 L229.4 369.22 L230.08 368.89 L230.75 368.5 L231.43 368.18 L232.1 367.88 L232.78 367.62 L233.45 367.56 L234.12 367.04 L234.8 366.94 L235.47 366.55 L236.15 366.28 L236.82 366.16 L237.5 366.03 L238.17 365.84 L238.85 365.67 L239.52 365.55 L240.2 365.41 L240.87 365.3 L241.54 364.99 L242.22 364.96 L242.89 364.76 L243.57 364.75 L244.24 364.62 L244.92 364.54 L245.59 364.39 L246.27 364.27 L246.94 364.22 L247.61 364.21 L248.29 364.13 L248.96 363.85 L249.64 363.93 L250.31 363.85 L250.99 363.63 L251.66 363.58 L252.34 363.56 L253.01 363.57 L253.69 363.27 L254.36 363.37 L255.03 363.3 L255.71 363.3 L256.38 363.34 L257.06 363.28 L257.73 363.08 L258.41 363.03 L259.08 363.04 L259.76 363.07 L260.43 363.04 L261.1 362.9 L261.78 362.95 L262.45 362.71 L263.13 362.64 L263.8 362.46 L264.48 362.58 L265.15 362.66 L265.83 362.65 L266.5 362.82 L267.18 362.54 L267.85 362.47 L268.52 362.34 L269.2 362.33 L269.87 362.3 L270.55 362.3 L271.22 362.22 L271.9 362.12 L272.57 362.3 L273.25 362.22 L273.92 362.26 L274.59 361.98 L275.27 361.98 L275.94 361.99 L276.62 362.13 L277.29 361.98 L277.97 361.99 L278.64 361.94 L279.32 361.93 L279.99 361.84 L280.67 361.89 L281.34 361.76 L282.01 361.79 L282.69 361.81 L283.36 361.77 L284.04 361.77 L284.71 361.64 L285.39 361.71 L286.06 361.63 L286.74 361.67 L287.41 361.74 L288.08 361.51 L288.76 361.65 L289.43 361.49 L290.11 361.49 L290.78 361.64 L291.46 361.56 L292.13 361.5 L292.81 361.51 L293.48 361.52 L294.16 361.34 L294.83 361.4 L295.5 361.33 L296.18 361.38 L296.85 361.3 L297.53 361.38 L298.2 361.3 L298.88 361.23 L299.55 361.26 L300.23 361.29 L300.9 361.33" fill="none" stroke="#3f922c" stroke-width="1.1" stroke-linejoin="round" stroke-dasharray="2.8 0.7"/>
<path d="M200.4 380.8 L201.07 380.83 L201.75 380.9 L202.42 380.99 L203.1 381.1 L203.77 381.22 L204.45 381.36 L205.12 381.56 L205.8 381.85 L206.47 382.21 L207.14 382.63 L207.82 383.06 L208.49 383.5 L209.17 383.91 L209.84 384.27 L210.52 384.55 L211.19 384.74 L211.87 384.81 L212.54 384.76 L213.22 384.63 L213.89 384.42 L214.56 384.16 L215.24 383.85 L215.91 383.51 L216.59 383.14 L217.26 382.77 L217.94 382.4 L218.61 382.05 L219.29 381.71 L219.96 381.34 L220.63 380.93 L221.31 380.5 L221.98 380.06 L222.66 379.62 L223.33 379.19 L224.01 378.78 L224.68 378.4 L225.36 378.06 L226.03 377.77 L226.71 377.49 L227.38 377.22 L228.05 376.95 L228.73 376.7 L229.4 376.46 L230.08 376.24 L230.75 376.04 L231.43 375.87 L232.1 375.72 L232.78 375.61 L233.45 375.52 L234.12 375.44 L234.8 375.36 L235.47 375.29 L236.15 375.22 L236.82 375.16 L237.5 375.11 L238.17 375.05 L238.85 375.01 L239.52 374.96 L240.2 374.92 L240.87 374.88 L241.54 374.84 L242.22 374.8 L242.89 374.77 L243.57 374.73 L244.24 374.7 L244.92 374.67 L245.59 374.64 L246.27 374.61 L246.94 374.59 L247.61 374.56 L248.29 374.53 L248.96 374.51 L249.64 374.49 L250.31 374.46 L250.99 374.44 L251.66 374.42 L252.34 374.4 L253.01 374.37 L253.69 374.35 L254.36 374.33 L255.03 374.31 L255.71 374.28 L256.38 374.26 L257.06 374.24 L257.73 374.21 L258.41 374.18 L259.08 374.16 L259.76 374.13 L260.43 374.1 L261.1 374.07 L261.78 374.05 L262.45 374.02 L263.13 373.99 L263.8 373.96 L264.48 373.93 L265.15 373.9 L265.83 373.87 L266.5 373.85 L267.18 373.82 L267.85 373.79 L268.52 373.76 L269.2 373.73 L269.87 373.7 L270.55 373.67 L271.22 373.65 L271.9 373.62 L272.57 373.59 L273.25 373.56 L273.92 373.53 L274.59 373.51 L275.27 373.48 L275.94 373.45 L276.62 373.43 L277.29 373.4 L277.97 373.37 L278.64 373.35 L279.32 373.32 L279.99 373.3 L280.67 373.28 L281.34 373.25 L282.01 373.23 L282.69 373.21 L283.36 373.18 L284.04 373.16 L284.71 373.14 L285.39 373.11 L286.06 373.09 L286.74 373.07 L287.41 373.05 L288.08 373.03 L288.76 373 L289.43 372.98 L290.11 372.96 L290.78 372.94 L291.46 372.92 L292.13 372.9 L292.81 372.88 L293.48 372.86 L294.16 372.84 L294.83 372.82 L295.5 372.8 L296.18 372.78 L296.85 372.76 L297.53 372.74 L298.2 372.73 L298.88 372.71 L299.55 372.69 L300.23 372.67 L300.9 372.65" fill="none" stroke="#ea1420" stroke-width="1.3" stroke-linejoin="round" stroke-dasharray="3 1.0"/>
<path d="M200.4 383.14 L201.07 384.04 L201.75 384.76 L202.42 385.33 L203.1 385.76 L203.77 386.08 L204.45 386.29 L205.12 386.43 L205.8 386.5 L206.47 386.53 L207.14 386.5 L207.82 386.17 L208.49 385.59 L209.17 384.84 L209.84 383.97 L210.52 382.48 L211.19 380.34 L211.87 377.76 L212.54 374.94 L213.22 372.09 L213.89 369.39 L214.56 367 L215.24 364.58 L215.91 362.15 L216.59 359.83 L217.26 357.74 L217.94 355.98 L218.61 354.37 L219.29 352.89 L219.96 351.59 L220.63 350.46 L221.31 349.57 L221.98 348.82 L222.66 348.17 L223.33 347.63 L224.01 347.16 L224.68 346.6 L225.36 346.19 L226.03 345.59 L226.71 345.11 L227.38 344.75 L228.05 344.13 L228.73 343.66 L229.4 343.29 L230.08 342.75 L230.75 342.34 L231.43 342.25 L232.1 341.7 L232.78 341.44 L233.45 341.15 L234.12 340.81 L234.8 340.71 L235.47 340.43 L236.15 340.2 L236.82 339.95 L237.5 339.63 L238.17 339.57 L238.85 339.31 L239.52 338.91 L240.2 338.81 L240.87 338.59 L241.54 338.73 L242.22 338.47 L242.89 338.32 L243.57 338.14 L244.24 338.11 L244.92 337.82 L245.59 337.84 L246.27 337.74 L246.94 337.65 L247.61 337.47 L248.29 337.54 L248.96 337.26 L249.64 337.26 L250.31 337.23 L250.99 337.17 L251.66 337.04 L252.34 336.92 L253.01 336.86 L253.69 336.87 L254.36 336.75 L255.03 336.79 L255.71 336.59 L256.38 336.69 L257.06 336.9 L257.73 336.42 L258.41 336.52 L259.08 336.63 L259.76 336.46 L260.43 336.5 L261.1 336.08 L261.78 336.23 L262.45 336.45 L263.13 336.14 L263.8 336.21 L264.48 335.88 L265.15 336.21 L265.83 336.32 L266.5 335.99 L267.18 336.01 L267.85 335.98 L268.52 336.16 L269.2 335.8 L269.87 335.61 L270.55 336.02 L271.22 335.6 L271.9 335.78 L272.57 335.39 L273.25 335.59 L273.92 335.64 L274.59 335.45 L275.27 335.49 L275.94 335.6 L276.62 335.41 L277.29 335.53 L277.97 335.66 L278.64 335.16 L279.32 335.43 L279.99 335.43 L280.67 335.29 L281.34 335.5 L282.01 335.45 L282.69 335.31 L283.36 335.29 L284.04 335.19 L284.71 335.04 L285.39 335.21 L286.06 335.07 L286.74 335.03 L287.41 335.22 L288.08 335.03 L288.76 335.15 L289.43 334.88 L290.11 334.93 L290.78 334.97 L291.46 335.12 L292.13 334.91 L292.81 335 L293.48 334.8 L294.16 334.88 L294.83 334.95 L295.5 334.72 L296.18 334.73 L296.85 334.87 L297.53 334.64 L298.2 334.8 L298.88 334.79 L299.55 334.72 L300.23 334.82 L300.9 334.76" fill="none" stroke="#2424e8" stroke-width="1.2" stroke-linejoin="round"/>
<path d="M200.4 380.98 L201.07 381.16 L201.75 381.42 L202.42 381.73 L203.1 382.1 L203.77 382.5 L204.45 383.08 L205.12 383.89 L205.8 384.69 L206.47 385.22 L207.14 385.29 L207.82 385.15 L208.49 384.89 L209.17 384.54 L209.84 384.08 L210.52 382.83 L211.19 380.77 L211.87 378.13 L212.54 375.19 L213.22 372.2 L213.89 369.41 L214.56 367 L215.24 364.59 L215.91 362.17 L216.59 359.85 L217.26 357.75 L217.94 355.98 L218.61 354.38 L219.29 352.83 L219.96 351.49 L220.63 350.35 L221.31 349.35 L221.98 348.58 L222.66 347.93 L223.33 347.26 L224.01 346.46 L224.68 346.15 L225.36 345.47 L226.03 344.9 L226.71 344.36 L227.38 344.03 L228.05 343.43 L228.73 342.89 L229.4 342.33 L230.08 342.07 L230.75 341.72 L231.43 341.01 L232.1 340.62 L232.78 340.38 L233.45 340.21 L234.12 339.73 L234.8 339.47 L235.47 339.03 L236.15 339.14 L236.82 338.6 L237.5 338.39 L238.17 338.32 L238.85 337.83 L239.52 337.65 L240.2 337.53 L240.87 337.19 L241.54 337.37 L242.22 336.96 L242.89 336.72 L243.57 336.62 L244.24 336.34 L244.92 336.66 L245.59 336.6 L246.27 336.15 L246.94 336 L247.61 335.58 L248.29 335.77 L248.96 335.97 L249.64 335.55 L250.31 335.78 L250.99 335.82 L251.66 334.94 L252.34 335.3 L253.01 335.15 L253.69 335.1 L254.36 334.78 L255.03 335 L255.71 334.74 L256.38 335.1 L257.06 335.1 L257.73 334.47 L258.41 334.38 L259.08 334.49 L259.76 334.47 L260.43 334.41 L261.1 334.5 L261.78 333.99 L262.45 334.08 L263.13 334.04 L263.8 333.99 L264.48 333.79 L265.15 333.82 L265.83 333.7 L266.5 334 L267.18 333.61 L267.85 333.21 L268.52 333.67 L269.2 333.53 L269.87 333.26 L270.55 333.18 L271.22 333.18 L271.9 333.56 L272.57 333.08 L273.25 333.35 L273.92 333.22 L274.59 332.9 L275.27 333.01 L275.94 332.74 L276.62 332.23 L277.29 332.64 L277.97 332.6 L278.64 332.86 L279.32 332.77 L279.99 332.81 L280.67 332.66 L281.34 332.73 L282.01 332.6 L282.69 332.47 L283.36 332.59 L284.04 332.63 L284.71 332.58 L285.39 332.19 L286.06 332.23 L286.74 332 L287.41 331.96 L288.08 332.19 L288.76 331.96 L289.43 332.34 L290.11 331.58 L290.78 331.76 L291.46 332 L292.13 332.16 L292.81 331.83 L293.48 332.23 L294.16 331.99 L294.83 331.67 L295.5 331.77 L296.18 331.86 L296.85 331.56 L297.53 331.92 L298.2 331.64 L298.88 331.77 L299.55 331.82 L300.23 331.55 L300.9 331.82" fill="none" stroke="#141414" stroke-width="1.3" stroke-linejoin="round"/>
<rect x="356.2" y="341.05" width="5.3" height="46.05" fill="#502466"/>
<line x1="358.85" y1="339.34" x2="358.85" y2="341.05" stroke="#231f20" stroke-width="1"/>
<line x1="357.15" y1="339.34" x2="360.55" y2="339.34" stroke="#231f20" stroke-width="1"/>
<rect x="364.7" y="342.48" width="5.5" height="44.62" fill="#6aa8de"/>
<line x1="367.45" y1="341.34" x2="367.45" y2="342.48" stroke="#231f20" stroke-width="1"/>
<line x1="365.75" y1="341.34" x2="369.15" y2="341.34" stroke="#231f20" stroke-width="1"/>
<rect x="378.5" y="375.09" width="5.3" height="12.01" fill="#502466"/>
<line x1="381.15" y1="371.37" x2="381.15" y2="375.09" stroke="#231f20" stroke-width="1"/>
<line x1="379.45" y1="371.37" x2="382.85" y2="371.37" stroke="#231f20" stroke-width="1"/>
<rect x="386.9" y="352.49" width="5.5" height="34.61" fill="#6aa8de"/>
<line x1="389.65" y1="345.63" x2="389.65" y2="352.49" stroke="#231f20" stroke-width="1"/>
<line x1="387.95" y1="345.63" x2="391.35" y2="345.63" stroke="#231f20" stroke-width="1"/>
<rect x="400.8" y="379.09" width="5.3" height="8.01" fill="#502466"/>
<line x1="403.45" y1="376.23" x2="403.45" y2="379.09" stroke="#231f20" stroke-width="1"/>
<line x1="401.75" y1="376.23" x2="405.15" y2="376.23" stroke="#231f20" stroke-width="1"/>
<rect x="409.1" y="371.66" width="5.5" height="15.44" fill="#6aa8de"/>
<line x1="411.85" y1="363.93" x2="411.85" y2="371.66" stroke="#231f20" stroke-width="1"/>
<line x1="410.15" y1="363.93" x2="413.55" y2="363.93" stroke="#231f20" stroke-width="1"/>
<rect x="423.1" y="379.09" width="5.3" height="8.01" fill="#502466"/>
<line x1="425.75" y1="378.52" x2="425.75" y2="379.09" stroke="#231f20" stroke-width="1"/>
<line x1="424.05" y1="378.52" x2="427.45" y2="378.52" stroke="#231f20" stroke-width="1"/>
<rect x="431.3" y="376.23" width="5.5" height="10.87" fill="#6aa8de"/>
<line x1="434.05" y1="373.37" x2="434.05" y2="376.23" stroke="#231f20" stroke-width="1"/>
<line x1="432.35" y1="373.37" x2="435.75" y2="373.37" stroke="#231f20" stroke-width="1"/>
<line x1="353.3" y1="327.2" x2="353.3" y2="387.75" stroke="#111" stroke-width="1.3"/>
<line x1="350.3" y1="387.1" x2="353.3" y2="387.1" stroke="#231f20" stroke-width="0.9"/>
<text x="347" y="389.4" font-size="6.7" text-anchor="end">0</text>
<line x1="350.3" y1="375.66" x2="353.3" y2="375.66" stroke="#231f20" stroke-width="0.9"/>
<text x="347" y="377.96" font-size="6.7" text-anchor="end">20</text>
<line x1="350.3" y1="364.22" x2="353.3" y2="364.22" stroke="#231f20" stroke-width="0.9"/>
<text x="347" y="366.52" font-size="6.7" text-anchor="end">40</text>
<line x1="350.3" y1="352.78" x2="353.3" y2="352.78" stroke="#231f20" stroke-width="0.9"/>
<text x="347" y="355.08" font-size="6.7" text-anchor="end">60</text>
<line x1="350.3" y1="341.34" x2="353.3" y2="341.34" stroke="#231f20" stroke-width="0.9"/>
<text x="347" y="343.64" font-size="6.7" text-anchor="end">80</text>
<line x1="350.3" y1="329.9" x2="353.3" y2="329.9" stroke="#231f20" stroke-width="0.9"/>
<text x="347" y="332.2" font-size="6.7" text-anchor="end">100</text>
<line x1="352.65" y1="387.1" x2="440" y2="387.1" stroke="#111" stroke-width="1.3"/>
<text x="0" y="0" font-size="9" text-anchor="middle" textLength="62.3" lengthAdjust="spacingAndGlyphs" transform="translate(331,358.5) rotate(-90)">Final aggregation (%)</text>
<rect x="356" y="317" width="6.7" height="4.8" fill="#502466"/>
<rect x="356" y="323.9" width="6.7" height="4.9" fill="#6aa8de"/>
<text x="365.6" y="321.8" font-size="5.6" textLength="25.4" lengthAdjust="spacingAndGlyphs">Vehicle ctrl</text>
<text x="365.6" y="328.8" font-size="5.6" textLength="22.4" lengthAdjust="spacingAndGlyphs">GW9662</text>
<path d="M381.3 364.9 V339.9 H389.6 V345.3" fill="none" stroke="#1a1a1a" stroke-width="1.05"/>
<text x="385.45" y="339" font-size="5.5" text-anchor="middle">**</text>
<text x="0" y="0" font-size="6.9" text-anchor="end" textLength="19.5" lengthAdjust="spacingAndGlyphs" transform="translate(366.1,394.4) rotate(-45)">DMSO</text>
<text x="0" y="0" font-size="6.9" text-anchor="end" textLength="24.5" lengthAdjust="spacingAndGlyphs" transform="translate(388.1,394.4) rotate(-45)">GW1929</text>
<text x="0" y="0" font-size="6.9" text-anchor="end" textLength="30" lengthAdjust="spacingAndGlyphs" transform="translate(410.5,394.7) rotate(-45)">11-HpDPA</text>
<text x="0" y="0" font-size="6.9" text-anchor="end" textLength="30" lengthAdjust="spacingAndGlyphs" transform="translate(432.7,394.7) rotate(-45)">14-HpDPA</text>
<text x="7" y="433.3" font-size="11.8" font-weight="bold">D</text>
<text x="73.5" y="431.4" font-size="8.6" textLength="26.2" lengthAdjust="spacingAndGlyphs">PPARα</text>
<text x="189" y="430.2" font-size="8.6" textLength="26" lengthAdjust="spacingAndGlyphs">PPARβ</text>
<text x="305" y="430.2" font-size="8.6" textLength="24.5" lengthAdjust="spacingAndGlyphs">PPARγ</text>
<line x1="52.2" y1="436.4" x2="52.2" y2="506.45" stroke="#111" stroke-width="1.3"/>
<line x1="49.2" y1="499.7" x2="52.2" y2="499.7" stroke="#231f20" stroke-width="0.9"/>
<text x="46" y="502" font-size="6.5" text-anchor="end">0</text>
<line x1="49.2" y1="487.46" x2="52.2" y2="487.46" stroke="#231f20" stroke-width="0.9"/>
<text x="46" y="489.76" font-size="6.5" text-anchor="end">20</text>
<line x1="49.2" y1="475.22" x2="52.2" y2="475.22" stroke="#231f20" stroke-width="0.9"/>
<text x="46" y="477.52" font-size="6.5" text-anchor="end">40</text>
<line x1="49.2" y1="462.98" x2="52.2" y2="462.98" stroke="#231f20" stroke-width="0.9"/>
<text x="46" y="465.28" font-size="6.5" text-anchor="end">60</text>
<line x1="49.2" y1="450.74" x2="52.2" y2="450.74" stroke="#231f20" stroke-width="0.9"/>
<text x="46" y="453.04" font-size="6.5" text-anchor="end">80</text>
<line x1="49.2" y1="438.5" x2="52.2" y2="438.5" stroke="#231f20" stroke-width="0.9"/>
<text x="46" y="440.8" font-size="6.5" text-anchor="end">100</text>
<line x1="51.55" y1="505.8" x2="122" y2="505.8" stroke="#111" stroke-width="1.3"/>
<line x1="52.2" y1="505.8" x2="52.2" y2="508.8" stroke="#231f20" stroke-width="0.9"/>
<text x="52.2" y="516.4" font-size="6.2" text-anchor="middle">0</text>
<line x1="65.7" y1="505.8" x2="65.7" y2="508.8" stroke="#231f20" stroke-width="0.9"/>
<text x="65.7" y="516.4" font-size="6.2" text-anchor="middle">1</text>
<line x1="79.2" y1="505.8" x2="79.2" y2="508.8" stroke="#231f20" stroke-width="0.9"/>
<text x="79.2" y="516.4" font-size="6.2" text-anchor="middle">2</text>
<line x1="92.7" y1="505.8" x2="92.7" y2="508.8" stroke="#231f20" stroke-width="0.9"/>
<text x="92.7" y="516.4" font-size="6.2" text-anchor="middle">3</text>
<line x1="106.2" y1="505.8" x2="106.2" y2="508.8" stroke="#231f20" stroke-width="0.9"/>
<text x="106.2" y="516.4" font-size="6.2" text-anchor="middle">4</text>
<line x1="119.7" y1="505.8" x2="119.7" y2="508.8" stroke="#231f20" stroke-width="0.9"/>
<text x="119.7" y="516.4" font-size="6.2" text-anchor="middle">5</text>
<text x="87" y="528.1" font-size="8.4" text-anchor="middle" textLength="28.1" lengthAdjust="spacingAndGlyphs">Time (min)</text>
<text x="0" y="0" font-size="8" text-anchor="middle" textLength="42.8" lengthAdjust="spacingAndGlyphs" transform="translate(29.1,471.1) rotate(-90)">Aggregation (%)</text>
<path d="M52.2 499.7 L52.88 499.77 L53.55 499.83 L54.23 499.87 L54.9 499.91 L55.58 499.94 L56.25 499.97 L56.93 499.98 L57.6 499.99 L58.28 500 L58.95 500 L59.62 500.01 L60.3 500.01 L60.98 499.8 L61.65 499.08 L62.33 498 L63 496.74 L63.68 495.46 L64.35 494.36 L65.03 493.53 L65.7 492.73 L66.38 491.94 L67.05 491.16 L67.73 490.43 L68.4 489.76 L69.08 489.11 L69.75 488.5 L70.43 488.03 L71.1 487.62 L71.78 487.2 L72.45 486.87 L73.12 486.56 L73.8 486.29 L74.48 486.04 L75.15 485.77 L75.83 485.49 L76.5 485.24 L77.18 484.98 L77.85 484.72 L78.53 484.49 L79.2 484.24 L79.88 484.05 L80.55 483.87 L81.22 483.58 L81.9 483.38 L82.58 483.15 L83.25 482.92 L83.93 482.75 L84.6 482.53 L85.28 482.29 L85.95 482.07 L86.62 481.89 L87.3 481.65 L87.98 481.48 L88.65 481.32 L89.33 481.1 L90 480.84 L90.68 480.75 L91.35 480.5 L92.03 480.3 L92.7 480.1 L93.38 479.98 L94.05 479.66 L94.73 479.5 L95.4 479.28 L96.08 479.03 L96.75 478.75 L97.43 478.5 L98.1 478.23 L98.78 477.89 L99.45 477.65 L100.12 477.33 L100.8 476.92 L101.48 476.55 L102.15 476.14 L102.83 475.8 L103.5 475.29 L104.18 474.85 L104.85 474.33 L105.53 473.95 L106.2 473.38 L106.88 472.83 L107.55 472.25 L108.23 471.54 L108.9 470.76 L109.58 470.09 L110.25 469.36 L110.93 468.58 L111.6 467.87 L112.28 467.22 L112.95 466.68 L113.62 466.09 L114.3 465.51 L114.98 465.04 L115.65 464.52 L116.33 463.96 L117 463.45 L117.68 463.08 L118.35 462.69 L119.03 462.22 L119.7 461.79" fill="none" stroke="#3f922c" stroke-width="0.9" stroke-linejoin="round" stroke-dasharray="2.8 0.7"/>
<path d="M52.2 499.7 L52.88 499.76 L53.55 499.82 L54.23 499.86 L54.9 499.9 L55.58 499.93 L56.25 499.95 L56.93 499.97 L57.6 499.98 L58.28 499.99 L58.95 500 L59.62 500 L60.3 500.01 L60.98 500.01 L61.65 500 L62.33 499.92 L63 499.76 L63.68 499.55 L64.35 499.3 L65.03 499.02 L65.7 498.72 L66.38 498.3 L67.05 497.74 L67.73 497.08 L68.4 496.37 L69.08 495.64 L69.75 494.94 L70.43 494.32 L71.1 493.81 L71.78 493.3 L72.45 492.77 L73.12 492.25 L73.8 491.76 L74.48 491.31 L75.15 490.92 L75.83 490.62 L76.5 490.41 L77.18 490.33 L77.85 490.29 L78.53 490.25 L79.2 490.22 L79.88 490.19 L80.55 490.16 L81.22 490.14 L81.9 490.12 L82.58 490.1 L83.25 490.08 L83.93 490.07 L84.6 490.06 L85.28 490.05 L85.95 490.04 L86.62 490.03 L87.3 490.02 L87.98 490.01 L88.65 490 L89.33 490 L90 489.99 L90.68 489.99 L91.35 489.98 L92.03 489.98 L92.7 489.97 L93.38 489.97 L94.05 489.96 L94.73 489.96 L95.4 489.96 L96.08 489.95 L96.75 489.95 L97.43 489.94 L98.1 489.93 L98.78 489.92 L99.45 489.92 L100.12 489.91 L100.8 489.89 L101.48 489.88 L102.15 489.86 L102.83 489.84 L103.5 489.82 L104.18 489.79 L104.85 489.76 L105.53 489.73 L106.2 489.7 L106.88 489.67 L107.55 489.63 L108.23 489.59 L108.9 489.55 L109.58 489.51 L110.25 489.46 L110.93 489.42 L111.6 489.37 L112.28 489.32 L112.95 489.27 L113.62 489.21 L114.3 489.16 L114.98 489.1 L115.65 489.05 L116.33 488.99 L117 488.93 L117.68 488.87 L118.35 488.81 L119.03 488.75 L119.7 488.68" fill="none" stroke="#ea1420" stroke-width="1.07" stroke-linejoin="round" stroke-dasharray="3 1.0"/>
<path d="M52.2 502.27 L52.88 502.27 L53.55 502.27 L54.23 502.27 L54.9 502.27 L55.58 502.27 L56.25 502.27 L56.93 502.27 L57.6 502.27 L58.28 502.27 L58.95 502.27 L59.62 502.27 L60.3 501.93 L60.98 500.38 L61.65 498.5 L62.33 496.09 L63 493.18 L63.68 490.01 L64.35 486.84 L65.03 483.76 L65.7 480.39 L66.38 476.96 L67.05 473.81 L67.73 471.22 L68.4 469.19 L69.08 467.29 L69.75 465.69 L70.43 464.31 L71.1 463.22 L71.78 462.16 L72.45 461.13 L73.12 460.25 L73.8 459.57 L74.48 458.95 L75.15 458.55 L75.83 458.15 L76.5 457.82 L77.18 457.41 L77.85 457.17 L78.53 456.94 L79.2 456.71 L79.88 456.44 L80.55 456.25 L81.22 456.11 L81.9 455.78 L82.58 455.67 L83.25 455.51 L83.93 455.26 L84.6 455.12 L85.28 455.03 L85.95 454.85 L86.62 454.79 L87.3 454.63 L87.98 454.59 L88.65 454.27 L89.33 454.31 L90 454.05 L90.68 454.01 L91.35 453.9 L92.03 453.74 L92.7 453.6 L93.38 453.46 L94.05 453.29 L94.73 453.25 L95.4 453.12 L96.08 453.09 L96.75 452.92 L97.43 452.86 L98.1 452.81 L98.78 452.71 L99.45 452.63 L100.12 452.55 L100.8 452.48 L101.48 452.47 L102.15 452.42 L102.83 452.28 L103.5 452.35 L104.18 452.23 L104.85 452.05 L105.53 452.23 L106.2 452.06 L106.88 451.93 L107.55 452.01 L108.23 451.72 L108.9 451.95 L109.58 451.68 L110.25 451.63 L110.93 451.62 L111.6 451.64 L112.28 451.57 L112.95 451.6 L113.62 451.47 L114.3 451.55 L114.98 451.47 L115.65 451.38 L116.33 451.47 L117 451.41 L117.68 451.37 L118.35 451.44 L119.03 451.29 L119.7 451.33" fill="none" stroke="#2424e8" stroke-width="0.98" stroke-linejoin="round"/>
<path d="M52.2 499.7 L52.88 499.7 L53.55 499.7 L54.23 499.7 L54.9 499.7 L55.58 499.7 L56.25 499.7 L56.93 499.49 L57.6 498.94 L58.28 498.17 L58.95 496.42 L59.62 493.3 L60.3 489.51 L60.98 485.74 L61.65 482.59 L62.33 479.56 L63 476.57 L63.68 473.74 L64.35 471.22 L65.03 469.04 L65.7 466.96 L66.38 465.16 L67.05 463.76 L67.73 462.81 L68.4 462.02 L69.08 461.41 L69.75 461.09 L70.43 464.25 L71.1 464.33 L71.78 463.6 L72.45 462.8 L73.12 461.9 L73.8 461.26 L74.48 461.01 L75.15 460.49 L75.83 460.37 L76.5 460.07 L77.18 459.86 L77.85 459.52 L78.53 459.4 L79.2 459.21 L79.88 459.18 L80.55 458.87 L81.22 458.82 L81.9 458.5 L82.58 458.32 L83.25 458.19 L83.93 457.85 L84.6 457.82 L85.28 457.65 L85.95 457.54 L86.62 457.43 L87.3 457.19 L87.98 457.05 L88.65 457.13 L89.33 456.82 L90 456.77 L90.68 456.64 L91.35 456.6 L92.03 456.68 L92.7 456.62 L93.38 456.31 L94.05 456.39 L94.73 456.49 L95.4 456.29 L96.08 456.32 L96.75 456.4 L97.43 456.4 L98.1 456.31 L98.78 456.11 L99.45 456.1 L100.12 456.08 L100.8 455.99 L101.48 455.93 L102.15 456.12 L102.83 455.92 L103.5 455.93 L104.18 455.93 L104.85 455.83 L105.53 455.75 L106.2 455.73 L106.88 455.79 L107.55 455.67 L108.23 455.42 L108.9 455.65 L109.58 455.66 L110.25 455.46 L110.93 455.4 L111.6 455.37 L112.28 455.47 L112.95 455.26 L113.62 455.38 L114.3 455.37 L114.98 455.29 L115.65 455.22 L116.33 455.12 L117 455.09 L117.68 455.12 L118.35 455 L119.03 455.05 L119.7 454.95" fill="none" stroke="#141414" stroke-width="1.07" stroke-linejoin="round"/>
<line x1="166.3" y1="435.4" x2="166.3" y2="506.45" stroke="#111" stroke-width="1.3"/>
<line x1="163.3" y1="499.6" x2="166.3" y2="499.6" stroke="#231f20" stroke-width="0.9"/>
<text x="160.1" y="501.9" font-size="6.5" text-anchor="end">0</text>
<line x1="163.3" y1="487.34" x2="166.3" y2="487.34" stroke="#231f20" stroke-width="0.9"/>
<text x="160.1" y="489.64" font-size="6.5" text-anchor="end">20</text>
<line x1="163.3" y1="475.08" x2="166.3" y2="475.08" stroke="#231f20" stroke-width="0.9"/>
<text x="160.1" y="477.38" font-size="6.5" text-anchor="end">40</text>
<line x1="163.3" y1="462.82" x2="166.3" y2="462.82" stroke="#231f20" stroke-width="0.9"/>
<text x="160.1" y="465.12" font-size="6.5" text-anchor="end">60</text>
<line x1="163.3" y1="450.56" x2="166.3" y2="450.56" stroke="#231f20" stroke-width="0.9"/>
<text x="160.1" y="452.86" font-size="6.5" text-anchor="end">80</text>
<line x1="163.3" y1="438.3" x2="166.3" y2="438.3" stroke="#231f20" stroke-width="0.9"/>
<text x="160.1" y="440.6" font-size="6.5" text-anchor="end">100</text>
<line x1="165.65" y1="505.8" x2="236.2" y2="505.8" stroke="#111" stroke-width="1.3"/>
<line x1="166.3" y1="505.8" x2="166.3" y2="508.8" stroke="#231f20" stroke-width="0.9"/>
<text x="166.3" y="516.4" font-size="6.2" text-anchor="middle">0</text>
<line x1="179.9" y1="505.8" x2="179.9" y2="508.8" stroke="#231f20" stroke-width="0.9"/>
<text x="179.9" y="516.4" font-size="6.2" text-anchor="middle">1</text>
<line x1="193.5" y1="505.8" x2="193.5" y2="508.8" stroke="#231f20" stroke-width="0.9"/>
<text x="193.5" y="516.4" font-size="6.2" text-anchor="middle">2</text>
<line x1="207.1" y1="505.8" x2="207.1" y2="508.8" stroke="#231f20" stroke-width="0.9"/>
<text x="207.1" y="516.4" font-size="6.2" text-anchor="middle">3</text>
<line x1="220.7" y1="505.8" x2="220.7" y2="508.8" stroke="#231f20" stroke-width="0.9"/>
<text x="220.7" y="516.4" font-size="6.2" text-anchor="middle">4</text>
<line x1="234.3" y1="505.8" x2="234.3" y2="508.8" stroke="#231f20" stroke-width="0.9"/>
<text x="234.3" y="516.4" font-size="6.2" text-anchor="middle">5</text>
<text x="201.9" y="527.8" font-size="8.4" text-anchor="middle" textLength="28.3" lengthAdjust="spacingAndGlyphs">Time (min)</text>
<text x="0" y="0" font-size="8" text-anchor="middle" textLength="42.8" lengthAdjust="spacingAndGlyphs" transform="translate(143.2,470.95) rotate(-90)">Aggregation (%)</text>
<path d="M166.3 500.95 L166.97 501.57 L167.65 502.05 L168.32 502.4 L168.99 502.63 L169.67 502.77 L170.34 502.84 L171.01 502.83 L171.69 502.56 L172.36 502.04 L173.03 501.32 L173.71 500.48 L174.38 499.58 L175.05 498.69 L175.73 497.89 L176.4 497.23 L177.07 496.7 L177.75 496.19 L178.42 495.7 L179.09 495.22 L179.77 494.77 L180.44 494.35 L181.11 493.99 L181.79 493.65 L182.46 493.38 L183.13 493.1 L183.8 492.8 L184.48 492.56 L185.15 492.4 L185.82 492.2 L186.5 492.25 L187.17 492.3 L187.84 492.21 L188.52 492.3 L189.19 492.25 L189.86 492.3 L190.54 492.3 L191.21 492.32 L191.88 492.39 L192.56 492.38 L193.23 492.29 L193.9 492.56 L194.58 492.46 L195.25 492.47 L195.92 492.58 L196.6 492.62 L197.27 492.46 L197.94 492.63 L198.62 492.52 L199.29 492.64 L199.96 492.69 L200.64 492.69 L201.31 492.71 L201.98 492.7 L202.66 492.76 L203.33 492.8 L204 492.81 L204.68 492.76 L205.35 492.8 L206.02 492.91 L206.7 492.89 L207.37 492.84 L208.04 492.89 L208.72 492.87 L209.39 492.9 L210.06 492.85 L210.74 492.8 L211.41 492.76 L212.08 492.8 L212.76 492.67 L213.43 492.77 L214.1 492.57 L214.78 492.67 L215.45 492.67 L216.12 492.7 L216.8 492.8 L217.47 492.62 L218.14 492.57 L218.81 492.44 L219.49 492.59 L220.16 492.37 L220.83 492.45 L221.51 492.36 L222.18 492.5 L222.85 492.3 L223.53 492.29 L224.2 492.18 L224.87 492.17 L225.55 492.18 L226.22 492.02 L226.89 491.98 L227.57 491.93 L228.24 491.85 L228.91 491.78 L229.59 491.79 L230.26 491.8 L230.93 491.74 L231.61 491.52 L232.28 491.49 L232.95 491.46 L233.63 491.42 L234.3 491.32" fill="none" stroke="#3f922c" stroke-width="0.9" stroke-linejoin="round" stroke-dasharray="2.8 0.7"/>
<path d="M166.3 498.99 L166.97 500.04 L167.65 501.07 L168.32 501.96 L168.99 502.59 L169.67 502.85 L170.34 502.83 L171.01 502.77 L171.69 502.69 L172.36 502.57 L173.03 502.42 L173.71 502.26 L174.38 502.08 L175.05 501.9 L175.73 501.7 L176.4 501.5 L177.07 501.31 L177.75 501.12 L178.42 500.94 L179.09 500.76 L179.77 500.56 L180.44 500.33 L181.11 500.09 L181.79 499.85 L182.46 499.6 L183.13 499.35 L183.8 499.11 L184.48 498.88 L185.15 498.67 L185.82 498.48 L186.5 498.32 L187.17 498.18 L187.84 498.09 L188.52 498.03 L189.19 497.97 L189.86 497.92 L190.54 497.87 L191.21 497.82 L191.88 497.78 L192.56 497.74 L193.23 497.7 L193.9 497.67 L194.58 497.64 L195.25 497.61 L195.92 497.58 L196.6 497.55 L197.27 497.52 L197.94 497.5 L198.62 497.47 L199.29 497.45 L199.96 497.43 L200.64 497.4 L201.31 497.38 L201.98 497.36 L202.66 497.33 L203.33 497.31 L204 497.28 L204.68 497.26 L205.35 497.23 L206.02 497.2 L206.7 497.17 L207.37 497.13 L208.04 497.1 L208.72 497.07 L209.39 497.03 L210.06 497 L210.74 496.97 L211.41 496.93 L212.08 496.9 L212.76 496.86 L213.43 496.83 L214.1 496.8 L214.78 496.76 L215.45 496.73 L216.12 496.69 L216.8 496.66 L217.47 496.62 L218.14 496.59 L218.81 496.55 L219.49 496.52 L220.16 496.48 L220.83 496.45 L221.51 496.41 L222.18 496.38 L222.85 496.34 L223.53 496.31 L224.2 496.27 L224.87 496.24 L225.55 496.2 L226.22 496.17 L226.89 496.13 L227.57 496.1 L228.24 496.06 L228.91 496.03 L229.59 495.99 L230.26 495.95 L230.93 495.92 L231.61 495.88 L232.28 495.85 L232.95 495.81 L233.63 495.77 L234.3 495.74" fill="none" stroke="#ea1420" stroke-width="1.07" stroke-linejoin="round" stroke-dasharray="3 1.0"/>
<path d="M166.3 504.81 L166.97 504.66 L167.65 504.25 L168.32 503.63 L168.99 502.85 L169.67 501.97 L170.34 500.67 L171.01 498.64 L171.69 496.07 L172.36 493.18 L173.03 490.18 L173.71 487.26 L174.38 484.02 L175.05 480.34 L175.73 476.62 L176.4 473.22 L177.07 470.52 L177.75 468.54 L178.42 466.81 L179.09 465.35 L179.77 464.24 L180.44 463.4 L181.11 462.66 L181.79 462 L182.46 461.44 L183.13 460.95 L183.8 460.45 L184.48 460 L185.15 459.6 L185.82 459.21 L186.5 458.83 L187.17 458.42 L187.84 458.03 L188.52 457.75 L189.19 457.39 L189.86 457.14 L190.54 456.92 L191.21 456.6 L191.88 456.17 L192.56 455.91 L193.23 455.55 L193.9 455.41 L194.58 455.07 L195.25 454.77 L195.92 454.53 L196.6 454.4 L197.27 454.1 L197.94 453.82 L198.62 453.65 L199.29 453.28 L199.96 453 L200.64 452.89 L201.31 452.46 L201.98 452.43 L202.66 452.22 L203.33 452.03 L204 451.89 L204.68 451.63 L205.35 451.51 L206.02 451.24 L206.7 451.21 L207.37 451.11 L208.04 451.08 L208.72 451.09 L209.39 450.9 L210.06 450.88 L210.74 450.66 L211.41 450.67 L212.08 450.46 L212.76 450.47 L213.43 450.4 L214.1 450.39 L214.78 450.34 L215.45 450.25 L216.12 450.17 L216.8 450.26 L217.47 450.11 L218.14 449.89 L218.81 450.07 L219.49 450.04 L220.16 450.04 L220.83 450.06 L221.51 449.8 L222.18 449.85 L222.85 449.8 L223.53 449.63 L224.2 449.54 L224.87 449.78 L225.55 449.58 L226.22 449.59 L226.89 449.57 L227.57 449.53 L228.24 449.54 L228.91 449.38 L229.59 449.43 L230.26 449.43 L230.93 449.33 L231.61 449.33 L232.28 449.35 L232.95 449.34 L233.63 449.2 L234.3 449.29" fill="none" stroke="#2424e8" stroke-width="0.98" stroke-linejoin="round"/>
<path d="M166.3 501.93 L166.97 502.28 L167.65 502.53 L168.32 502.7 L168.99 502.79 L169.67 502.83 L170.34 502.85 L171.01 502.78 L171.69 501.78 L172.36 499.9 L173.03 497.51 L173.71 494.97 L174.38 491.94 L175.05 487.88 L175.73 483.39 L176.4 479.07 L177.07 475.53 L177.75 472.84 L178.42 470.41 L179.09 468.35 L179.77 466.76 L180.44 465.66 L181.11 464.69 L181.79 463.96 L182.46 463.18 L183.13 462.52 L183.8 461.98 L184.48 461.37 L185.15 460.92 L185.82 460.44 L186.5 459.87 L187.17 459.21 L187.84 458.75 L188.52 458.45 L189.19 457.83 L189.86 457.59 L190.54 456.97 L191.21 456.71 L191.88 456.47 L192.56 455.96 L193.23 455.82 L193.9 455.52 L194.58 455.28 L195.25 454.75 L195.92 454.49 L196.6 454.21 L197.27 453.97 L197.94 453.46 L198.62 453.43 L199.29 453.21 L199.96 452.7 L200.64 452.43 L201.31 452.33 L201.98 452.37 L202.66 452 L203.33 451.62 L204 451.49 L204.68 451.08 L205.35 451.26 L206.02 450.81 L206.7 450.79 L207.37 450.35 L208.04 450.36 L208.72 450.04 L209.39 450.08 L210.06 450.01 L210.74 449.8 L211.41 449.57 L212.08 449.47 L212.76 449.02 L213.43 448.85 L214.1 448.84 L214.78 448.87 L215.45 448.61 L216.12 448.55 L216.8 448.15 L217.47 448.18 L218.14 448.04 L218.81 448.05 L219.49 448.16 L220.16 447.91 L220.83 447.87 L221.51 447.59 L222.18 447.55 L222.85 447.59 L223.53 447.46 L224.2 447.13 L224.87 447.38 L225.55 447.3 L226.22 447.14 L226.89 447.14 L227.57 447.04 L228.24 446.86 L228.91 446.65 L229.59 447.04 L230.26 446.77 L230.93 446.72 L231.61 446.69 L232.28 446.67 L232.95 446.66 L233.63 446.46 L234.3 446.64" fill="none" stroke="#141414" stroke-width="1.07" stroke-linejoin="round"/>
<line x1="281.9" y1="436.3" x2="281.9" y2="506.45" stroke="#111" stroke-width="1.3"/>
<line x1="278.9" y1="499.4" x2="281.9" y2="499.4" stroke="#231f20" stroke-width="0.9"/>
<text x="275.7" y="501.7" font-size="6.5" text-anchor="end">0</text>
<line x1="278.9" y1="487.26" x2="281.9" y2="487.26" stroke="#231f20" stroke-width="0.9"/>
<text x="275.7" y="489.56" font-size="6.5" text-anchor="end">20</text>
<line x1="278.9" y1="475.12" x2="281.9" y2="475.12" stroke="#231f20" stroke-width="0.9"/>
<text x="275.7" y="477.42" font-size="6.5" text-anchor="end">40</text>
<line x1="278.9" y1="462.98" x2="281.9" y2="462.98" stroke="#231f20" stroke-width="0.9"/>
<text x="275.7" y="465.28" font-size="6.5" text-anchor="end">60</text>
<line x1="278.9" y1="450.84" x2="281.9" y2="450.84" stroke="#231f20" stroke-width="0.9"/>
<text x="275.7" y="453.14" font-size="6.5" text-anchor="end">80</text>
<line x1="278.9" y1="438.7" x2="281.9" y2="438.7" stroke="#231f20" stroke-width="0.9"/>
<text x="275.7" y="441" font-size="6.5" text-anchor="end">100</text>
<line x1="281.25" y1="505.8" x2="351.2" y2="505.8" stroke="#111" stroke-width="1.3"/>
<line x1="281.9" y1="505.8" x2="281.9" y2="508.8" stroke="#231f20" stroke-width="0.9"/>
<text x="281.9" y="516.4" font-size="6.2" text-anchor="middle">0</text>
<line x1="295.4" y1="505.8" x2="295.4" y2="508.8" stroke="#231f20" stroke-width="0.9"/>
<text x="295.4" y="516.4" font-size="6.2" text-anchor="middle">1</text>
<line x1="308.9" y1="505.8" x2="308.9" y2="508.8" stroke="#231f20" stroke-width="0.9"/>
<text x="308.9" y="516.4" font-size="6.2" text-anchor="middle">2</text>
<line x1="322.4" y1="505.8" x2="322.4" y2="508.8" stroke="#231f20" stroke-width="0.9"/>
<text x="322.4" y="516.4" font-size="6.2" text-anchor="middle">3</text>
<line x1="335.9" y1="505.8" x2="335.9" y2="508.8" stroke="#231f20" stroke-width="0.9"/>
<text x="335.9" y="516.4" font-size="6.2" text-anchor="middle">4</text>
<line x1="349.4" y1="505.8" x2="349.4" y2="508.8" stroke="#231f20" stroke-width="0.9"/>
<text x="349.4" y="516.4" font-size="6.2" text-anchor="middle">5</text>
<text x="316.9" y="527.8" font-size="8.4" text-anchor="middle" textLength="28.3" lengthAdjust="spacingAndGlyphs">Time (min)</text>
<text x="0" y="0" font-size="8" text-anchor="middle" textLength="42.8" lengthAdjust="spacingAndGlyphs" transform="translate(258.8,471.05) rotate(-90)">Aggregation (%)</text>
<path d="M281.9 500.61 L282.57 501.51 L283.25 502.28 L283.92 502.92 L284.6 503.46 L285.27 503.88 L285.95 504.2 L286.62 504.41 L287.3 504.53 L287.97 504.55 L288.65 504.36 L289.32 503.95 L290 503.37 L290.67 502.68 L291.35 501.93 L292.02 501.19 L292.7 500.51 L293.38 499.94 L294.05 499.52 L294.72 499.1 L295.4 498.67 L296.07 498.29 L296.75 497.93 L297.42 497.55 L298.1 497.34 L298.77 497.11 L299.45 496.95 L300.12 496.91 L300.8 496.8 L301.47 496.71 L302.15 496.57 L302.82 496.63 L303.5 496.54 L304.17 496.46 L304.85 496.44 L305.52 496.46 L306.2 496.34 L306.88 496.32 L307.55 496.27 L308.22 496.19 L308.9 496.17 L309.57 496.17 L310.25 496.14 L310.92 496.18 L311.6 496.09 L312.27 496.02 L312.95 496.01 L313.62 495.94 L314.3 495.94 L314.97 495.77 L315.65 495.69 L316.32 495.78 L317 495.69 L317.67 495.68 L318.35 495.56 L319.02 495.56 L319.7 495.53 L320.38 495.5 L321.05 495.44 L321.72 495.46 L322.4 495.32 L323.07 495.35 L323.75 495.24 L324.42 495.22 L325.1 495.12 L325.77 495.14 L326.45 495.03 L327.12 495.1 L327.8 494.97 L328.47 494.97 L329.15 494.91 L329.82 494.87 L330.5 494.78 L331.17 494.9 L331.85 494.73 L332.52 494.78 L333.2 494.59 L333.88 494.72 L334.55 494.63 L335.22 494.62 L335.9 494.4 L336.57 494.52 L337.25 494.4 L337.92 494.4 L338.6 494.42 L339.27 494.3 L339.95 494.21 L340.62 494.21 L341.3 494.11 L341.97 494.14 L342.65 494.08 L343.32 494.06 L344 493.98 L344.67 493.86 L345.35 493.91 L346.02 493.88 L346.7 493.88 L347.38 493.85 L348.05 493.69 L348.72 493.79 L349.4 493.74" fill="none" stroke="#3f922c" stroke-width="0.9" stroke-linejoin="round" stroke-dasharray="2.8 0.7"/>
<path d="M281.9 500.61 L282.57 501.32 L283.25 501.99 L283.92 502.61 L284.6 503.17 L285.27 503.66 L285.95 504.05 L286.62 504.34 L287.3 504.52 L287.97 504.56 L288.65 504.52 L289.32 504.43 L290 504.29 L290.67 504.13 L291.35 503.93 L292.02 503.72 L292.7 503.49 L293.38 503.27 L294.05 503.05 L294.72 502.84 L295.4 502.65 L296.07 502.48 L296.75 502.3 L297.42 502.11 L298.1 501.91 L298.77 501.72 L299.45 501.53 L300.12 501.35 L300.8 501.18 L301.47 501.03 L302.15 500.9 L302.82 500.79 L303.5 500.7 L304.17 500.63 L304.85 500.55 L305.52 500.48 L306.2 500.42 L306.88 500.35 L307.55 500.29 L308.22 500.24 L308.9 500.18 L309.57 500.13 L310.25 500.08 L310.92 500.03 L311.6 499.98 L312.27 499.94 L312.95 499.89 L313.62 499.85 L314.3 499.81 L314.97 499.77 L315.65 499.74 L316.32 499.7 L317 499.66 L317.67 499.63 L318.35 499.6 L319.02 499.56 L319.7 499.53 L320.38 499.5 L321.05 499.46 L321.72 499.43 L322.4 499.4 L323.07 499.37 L323.75 499.34 L324.42 499.3 L325.1 499.27 L325.77 499.24 L326.45 499.21 L327.12 499.18 L327.8 499.15 L328.47 499.12 L329.15 499.09 L329.82 499.06 L330.5 499.03 L331.17 499 L331.85 498.97 L332.52 498.94 L333.2 498.91 L333.88 498.89 L334.55 498.86 L335.22 498.83 L335.9 498.81 L336.57 498.78 L337.25 498.76 L337.92 498.73 L338.6 498.71 L339.27 498.69 L339.95 498.66 L340.62 498.64 L341.3 498.62 L341.97 498.6 L342.65 498.58 L343.32 498.56 L344 498.54 L344.67 498.53 L345.35 498.51 L346.02 498.49 L346.7 498.48 L347.38 498.47 L348.05 498.45 L348.72 498.44 L349.4 498.43" fill="none" stroke="#ea1420" stroke-width="1.07" stroke-linejoin="round" stroke-dasharray="3 1.0"/>
<path d="M281.9 500.61 L282.57 501.55 L283.25 502.32 L283.92 502.95 L284.6 503.45 L285.27 503.83 L285.95 504.12 L286.62 504.31 L287.3 504.44 L287.97 504.52 L288.65 504.55 L289.32 504.56 L290 504.48 L290.67 503.7 L291.35 502.21 L292.02 500.2 L292.7 497.87 L293.38 495.4 L294.05 492.97 L294.72 490.78 L295.4 488.51 L296.07 486.04 L296.75 483.42 L297.42 480.83 L298.1 478.45 L298.77 476.13 L299.45 474.02 L300.12 472.28 L300.8 470.52 L301.47 468.7 L302.15 467.05 L302.82 465.52 L303.5 464.18 L304.17 463.01 L304.85 462.09 L305.52 461.34 L306.2 460.81 L306.88 460.19 L307.55 459.66 L308.22 459.05 L308.9 458.69 L309.57 458.33 L310.25 457.92 L310.92 457.61 L311.6 457.26 L312.27 457.05 L312.95 456.72 L313.62 456.54 L314.3 456.45 L314.97 456.28 L315.65 455.97 L316.32 455.81 L317 455.67 L317.67 455.6 L318.35 455.45 L319.02 455.1 L319.7 454.9 L320.38 454.73 L321.05 454.75 L321.72 454.4 L322.4 454.38 L323.07 454.16 L323.75 454.02 L324.42 453.99 L325.1 453.84 L325.77 453.84 L326.45 453.62 L327.12 453.58 L327.8 453.29 L328.47 453.21 L329.15 453.04 L329.82 452.99 L330.5 452.97 L331.17 452.8 L331.85 452.78 L332.52 452.62 L333.2 452.56 L333.88 452.6 L334.55 452.45 L335.22 452.38 L335.9 452.35 L336.57 452.19 L337.25 452.07 L337.92 452.2 L338.6 452.15 L339.27 452.26 L339.95 452.04 L340.62 452.02 L341.3 452.11 L341.97 451.87 L342.65 451.81 L343.32 451.88 L344 451.81 L344.67 451.83 L345.35 451.66 L346.02 451.82 L346.7 451.7 L347.38 451.5 L348.05 451.64 L348.72 451.59 L349.4 451.64" fill="none" stroke="#2424e8" stroke-width="0.98" stroke-linejoin="round"/>
<path d="M281.9 500.61 L282.57 501.69 L283.25 502.47 L283.92 503.01 L284.6 503.35 L285.27 503.55 L285.95 503.63 L286.62 503.65 L287.3 503.47 L287.97 502.46 L288.65 500.74 L289.32 498.5 L290 495.96 L290.67 493.3 L291.35 490.74 L292.02 488.39 L292.7 485.78 L293.38 482.96 L294.05 480.15 L294.72 477.57 L295.4 475.46 L296.07 473.85 L296.75 472.37 L297.42 470.89 L298.1 469.56 L298.77 468.39 L299.45 467.31 L300.12 466.35 L300.8 465.37 L301.47 464.66 L302.15 463.92 L302.82 463.33 L303.5 462.65 L304.17 461.95 L304.85 461.5 L305.52 461 L306.2 460.4 L306.88 459.76 L307.55 459.49 L308.22 459 L308.9 458.92 L309.57 458.71 L310.25 458.63 L310.92 458.32 L311.6 457.87 L312.27 457.83 L312.95 457.61 L313.62 457.46 L314.3 457.4 L314.97 457.29 L315.65 457.12 L316.32 456.92 L317 456.83 L317.67 456.71 L318.35 456.64 L319.02 456.65 L319.7 456.47 L320.38 456.45 L321.05 456.09 L321.72 456.38 L322.4 456.03 L323.07 455.58 L323.75 455.82 L324.42 455.82 L325.1 455.58 L325.77 455.32 L326.45 455.41 L327.12 455.22 L327.8 455.2 L328.47 455.17 L329.15 454.63 L329.82 454.94 L330.5 454.93 L331.17 454.84 L331.85 454.64 L332.52 454.54 L333.2 454.41 L333.88 454.4 L334.55 454.5 L335.22 454.15 L335.9 454.16 L336.57 454.05 L337.25 454.1 L337.92 453.87 L338.6 453.79 L339.27 453.59 L339.95 453.66 L340.62 453.36 L341.3 453.23 L341.97 453.28 L342.65 453.1 L343.32 453.01 L344 452.67 L344.67 452.99 L345.35 452.59 L346.02 452.64 L346.7 452.36 L347.38 452.08 L348.05 452.14 L348.72 451.92 L349.4 451.92" fill="none" stroke="#141414" stroke-width="1.07" stroke-linejoin="round"/>
<rect x="400.8" y="461.26" width="5.6" height="44.04" fill="#502466"/>
<line x1="403.6" y1="460.11" x2="403.6" y2="461.26" stroke="#231f20" stroke-width="1"/>
<line x1="401.9" y1="460.11" x2="405.3" y2="460.11" stroke="#231f20" stroke-width="1"/>
<rect x="409.25" y="458.97" width="5.6" height="46.33" fill="#9186c6"/>
<line x1="412.05" y1="457.82" x2="412.05" y2="458.97" stroke="#231f20" stroke-width="1"/>
<line x1="410.35" y1="457.82" x2="413.75" y2="457.82" stroke="#231f20" stroke-width="1"/>
<rect x="417.7" y="493.86" width="5.6" height="11.44" fill="#b4062c"/>
<line x1="420.5" y1="488.14" x2="420.5" y2="493.86" stroke="#231f20" stroke-width="1"/>
<line x1="418.8" y1="488.14" x2="422.2" y2="488.14" stroke="#231f20" stroke-width="1"/>
<rect x="426.15" y="473.84" width="5.6" height="31.46" fill="#2f6b50"/>
<line x1="428.95" y1="469.26" x2="428.95" y2="473.84" stroke="#231f20" stroke-width="1"/>
<line x1="427.25" y1="469.26" x2="430.65" y2="469.26" stroke="#231f20" stroke-width="1"/>
<rect x="440.3" y="457.82" width="5.6" height="47.48" fill="#502466"/>
<line x1="443.1" y1="457.25" x2="443.1" y2="457.82" stroke="#231f20" stroke-width="1"/>
<line x1="441.4" y1="457.25" x2="444.8" y2="457.25" stroke="#231f20" stroke-width="1"/>
<rect x="448.75" y="456.68" width="5.6" height="48.62" fill="#9186c6"/>
<line x1="451.55" y1="456.11" x2="451.55" y2="456.68" stroke="#231f20" stroke-width="1"/>
<line x1="449.85" y1="456.11" x2="453.25" y2="456.11" stroke="#231f20" stroke-width="1"/>
<rect x="457.2" y="499.01" width="5.6" height="6.29" fill="#b4062c"/>
<line x1="460" y1="497.01" x2="460" y2="499.01" stroke="#231f20" stroke-width="1"/>
<line x1="458.3" y1="497.01" x2="461.7" y2="497.01" stroke="#231f20" stroke-width="1"/>
<rect x="465.65" y="488.14" width="5.6" height="17.16" fill="#2f6b50"/>
<line x1="468.45" y1="482.99" x2="468.45" y2="488.14" stroke="#231f20" stroke-width="1"/>
<line x1="466.75" y1="482.99" x2="470.15" y2="482.99" stroke="#231f20" stroke-width="1"/>
<rect x="479.8" y="459.54" width="5.6" height="45.76" fill="#502466"/>
<line x1="482.6" y1="458.97" x2="482.6" y2="459.54" stroke="#231f20" stroke-width="1"/>
<line x1="480.9" y1="458.97" x2="484.3" y2="458.97" stroke="#231f20" stroke-width="1"/>
<rect x="488.25" y="455.82" width="5.6" height="49.48" fill="#9186c6"/>
<line x1="491.05" y1="455.25" x2="491.05" y2="455.82" stroke="#231f20" stroke-width="1"/>
<line x1="489.35" y1="455.25" x2="492.75" y2="455.25" stroke="#231f20" stroke-width="1"/>
<rect x="496.7" y="502.44" width="5.6" height="2.86" fill="#b4062c"/>
<line x1="499.5" y1="501.87" x2="499.5" y2="502.44" stroke="#231f20" stroke-width="1"/>
<line x1="497.8" y1="501.87" x2="501.2" y2="501.87" stroke="#231f20" stroke-width="1"/>
<rect x="505.15" y="500.15" width="5.6" height="5.15" fill="#2f6b50"/>
<line x1="507.95" y1="497.58" x2="507.95" y2="500.15" stroke="#231f20" stroke-width="1"/>
<line x1="506.25" y1="497.58" x2="509.65" y2="497.58" stroke="#231f20" stroke-width="1"/>
<line x1="396.9" y1="445.5" x2="396.9" y2="505.95" stroke="#111" stroke-width="1.3"/>
<line x1="393.9" y1="505.3" x2="396.9" y2="505.3" stroke="#231f20" stroke-width="0.9"/>
<text x="390.6" y="507.6" font-size="6.7" text-anchor="end">0</text>
<line x1="393.9" y1="493.86" x2="396.9" y2="493.86" stroke="#231f20" stroke-width="0.9"/>
<text x="390.6" y="496.16" font-size="6.7" text-anchor="end">20</text>
<line x1="393.9" y1="482.42" x2="396.9" y2="482.42" stroke="#231f20" stroke-width="0.9"/>
<text x="390.6" y="484.72" font-size="6.7" text-anchor="end">40</text>
<line x1="393.9" y1="470.98" x2="396.9" y2="470.98" stroke="#231f20" stroke-width="0.9"/>
<text x="390.6" y="473.28" font-size="6.7" text-anchor="end">60</text>
<line x1="393.9" y1="459.54" x2="396.9" y2="459.54" stroke="#231f20" stroke-width="0.9"/>
<text x="390.6" y="461.84" font-size="6.7" text-anchor="end">80</text>
<line x1="393.9" y1="448.1" x2="396.9" y2="448.1" stroke="#231f20" stroke-width="0.9"/>
<text x="390.6" y="450.4" font-size="6.7" text-anchor="end">100</text>
<line x1="396.25" y1="505.3" x2="513" y2="505.3" stroke="#111" stroke-width="1.3"/>
<text x="0" y="0" font-size="9" text-anchor="middle" textLength="62.3" lengthAdjust="spacingAndGlyphs" transform="translate(375,476.7) rotate(-90)">Final aggregation (%)</text>
<rect x="400.3" y="430.4" width="6.6" height="4.2" fill="#502466"/>
<rect x="400.3" y="438.1" width="6.6" height="4.2" fill="#9186c6"/>
<rect x="455.6" y="430.3" width="6.9" height="4.3" fill="#b4062c"/>
<rect x="455.6" y="438.1" width="6.9" height="4.5" fill="#2f6b50"/>
<text x="410" y="434.6" font-size="5.6" textLength="25.4" lengthAdjust="spacingAndGlyphs">Vehicle ctrl</text>
<text x="410" y="442.3" font-size="5.6" textLength="22.3" lengthAdjust="spacingAndGlyphs">PPAR ant.</text>
<text x="466" y="434.6" font-size="5.6" textLength="10" lengthAdjust="spacingAndGlyphs">DPA</text>
<text x="476.3" y="437" font-size="3.6" textLength="5" lengthAdjust="spacingAndGlyphs">n-6</text>
<text x="466" y="442.3" font-size="5.6" textLength="37.5" lengthAdjust="spacingAndGlyphs">PPAR ant. + DPA</text>
<text x="503.8" y="444.7" font-size="3.6" textLength="5" lengthAdjust="spacingAndGlyphs">n-6</text>
<path d="M420.4 486.2 V464.2 H429 V467.3" fill="none" stroke="#1a1a1a" stroke-width="1.05"/>
<text x="424.7" y="462" font-size="5.5" text-anchor="middle">*</text>
<text x="416.6" y="515" font-size="7" text-anchor="middle" textLength="21.3" lengthAdjust="spacingAndGlyphs">PPARα</text>
<text x="456" y="515" font-size="7" text-anchor="middle" textLength="19.4" lengthAdjust="spacingAndGlyphs">PPARβ</text>
<text x="495.5" y="515" font-size="7" text-anchor="middle" textLength="19" lengthAdjust="spacingAndGlyphs">PPARγ</text>
<text x="8" y="547.6" font-size="11.8" font-weight="bold">E</text>
<line x1="52" y1="551.8" x2="52" y2="641.85" stroke="#111" stroke-width="1.3"/>
<line x1="49" y1="634.6" x2="52" y2="634.6" stroke="#231f20" stroke-width="0.9"/>
<text x="46" y="636.9" font-size="6.6" text-anchor="end">0</text>
<line x1="49" y1="621.05" x2="52" y2="621.05" stroke="#231f20" stroke-width="0.9"/>
<text x="46" y="623.35" font-size="6.6" text-anchor="end">25</text>
<line x1="49" y1="607.5" x2="52" y2="607.5" stroke="#231f20" stroke-width="0.9"/>
<text x="46" y="609.8" font-size="6.6" text-anchor="end">50</text>
<line x1="49" y1="593.95" x2="52" y2="593.95" stroke="#231f20" stroke-width="0.9"/>
<text x="46" y="596.25" font-size="6.6" text-anchor="end">75</text>
<line x1="49" y1="580.4" x2="52" y2="580.4" stroke="#231f20" stroke-width="0.9"/>
<text x="46" y="582.7" font-size="6.6" text-anchor="end">100</text>
<line x1="49" y1="566.85" x2="52" y2="566.85" stroke="#231f20" stroke-width="0.9"/>
<text x="46" y="569.15" font-size="6.6" text-anchor="end">125</text>
<line x1="49" y1="553.3" x2="52" y2="553.3" stroke="#231f20" stroke-width="0.9"/>
<text x="46" y="555.6" font-size="6.6" text-anchor="end">150</text>
<line x1="51.35" y1="641.2" x2="170.4" y2="641.2" stroke="#111" stroke-width="1.3"/>
<line x1="61.8" y1="641.2" x2="61.8" y2="644" stroke="#231f20" stroke-width="0.9"/>
<text x="61.5" y="653" font-size="6" text-anchor="middle">-10</text>
<line x1="81.5" y1="641.2" x2="81.5" y2="644" stroke="#231f20" stroke-width="0.9"/>
<text x="81.2" y="653" font-size="6" text-anchor="middle">-9</text>
<line x1="101.2" y1="641.2" x2="101.2" y2="644" stroke="#231f20" stroke-width="0.9"/>
<text x="100.9" y="653" font-size="6" text-anchor="middle">-8</text>
<line x1="120.9" y1="641.2" x2="120.9" y2="644" stroke="#231f20" stroke-width="0.9"/>
<text x="120.6" y="653" font-size="6" text-anchor="middle">-7</text>
<line x1="140.6" y1="641.2" x2="140.6" y2="644" stroke="#231f20" stroke-width="0.9"/>
<text x="140.3" y="653" font-size="6" text-anchor="middle">-6</text>
<line x1="160.3" y1="641.2" x2="160.3" y2="644" stroke="#231f20" stroke-width="0.9"/>
<text x="160" y="653" font-size="6" text-anchor="middle">-5</text>
<text x="111" y="664.8" font-size="8.2" text-anchor="middle" textLength="41" lengthAdjust="spacingAndGlyphs">Log agonist [M]</text>
<text x="0" y="0" font-size="6.9" text-anchor="middle" textLength="52" lengthAdjust="spacingAndGlyphs" transform="translate(29.2,596.3) rotate(-90)">% PPARα response</text>
<path d="M61.8 629.88 L62.55 629.88 L63.3 629.88 L64.04 629.88 L64.79 629.88 L65.54 629.88 L66.29 629.88 L67.04 629.88 L67.78 629.88 L68.53 629.88 L69.28 629.88 L70.03 629.87 L70.78 629.87 L71.53 629.86 L72.27 629.85 L73.02 629.84 L73.77 629.83 L74.52 629.81 L75.27 629.78 L76.01 629.75 L76.76 629.7 L77.51 629.63 L78.26 629.55 L79.01 629.43 L79.75 629.28 L80.5 629.07 L81.25 628.8 L82 628.44 L82.75 627.96 L83.49 627.33 L84.24 626.52 L84.99 625.48 L85.74 624.16 L86.49 622.53 L87.24 620.56 L87.98 618.23 L88.73 615.58 L89.48 612.67 L90.23 609.61 L90.98 606.53 L91.72 603.55 L92.47 600.8 L93.22 598.35 L93.97 596.24 L94.72 594.49 L95.46 593.06 L96.21 591.92 L96.96 591.03 L97.71 590.34 L98.46 589.81 L99.21 589.41 L99.95 589.11 L100.7 588.88 L101.45 588.71 L102.2 588.58 L102.95 588.48 L103.69 588.41 L104.44 588.36 L105.19 588.32 L105.94 588.29 L106.69 588.27 L107.43 588.25 L108.18 588.24 L108.93 588.23 L109.68 588.22 L110.43 588.22 L111.17 588.22 L111.92 588.21 L112.67 588.21 L113.42 588.21 L114.17 588.21 L114.92 588.21 L115.66 588.21 L116.41 588.21 L117.16 588.21 L117.91 588.21 L118.66 588.21 L119.4 588.21 L120.15 588.21 L120.9 588.21" fill="none" stroke="#1f4f8f" stroke-width="1.3"/>
<path d="M81.5 629.88 L82.12 629.88 L82.75 629.88 L83.37 629.88 L83.99 629.88 L84.62 629.88 L85.24 629.88 L85.86 629.88 L86.49 629.88 L87.11 629.88 L87.73 629.88 L88.36 629.88 L88.98 629.88 L89.6 629.88 L90.23 629.88 L90.85 629.88 L91.47 629.88 L92.1 629.88 L92.72 629.88 L93.34 629.88 L93.97 629.88 L94.59 629.88 L95.22 629.88 L95.84 629.88 L96.46 629.88 L97.09 629.88 L97.71 629.88 L98.33 629.88 L98.96 629.88 L99.58 629.88 L100.2 629.88 L100.83 629.88 L101.45 629.88 L102.07 629.88 L102.7 629.88 L103.32 629.87 L103.94 629.86 L104.57 629.84 L105.19 629.81 L105.81 629.75 L106.44 629.64 L107.06 629.44 L107.68 629.09 L108.31 628.49 L108.93 627.44 L109.55 625.68 L110.18 622.84 L110.8 618.61 L111.42 612.9 L112.05 606.22 L112.67 599.57 L113.29 593.92 L113.92 589.74 L114.54 586.96 L115.16 585.23 L115.79 584.21 L116.41 583.61 L117.03 583.27 L117.66 583.08 L118.28 582.98 L118.91 582.92 L119.53 582.88 L120.15 582.86 L120.78 582.85 L121.4 582.85 L122.02 582.84 L122.65 582.84 L123.27 582.84 L123.89 582.84 L124.52 582.84 L125.14 582.84 L125.76 582.84 L126.39 582.84 L127.01 582.84 L127.63 582.84 L128.26 582.84 L128.88 582.84 L129.5 582.84 L130.13 582.84 L130.75 582.84" fill="none" stroke="#6bbb42" stroke-width="1.3"/>
<path d="M91.35 632.76 L91.97 632.76 L92.6 632.76 L93.22 632.76 L93.84 632.76 L94.47 632.76 L95.09 632.76 L95.71 632.76 L96.34 632.75 L96.96 632.75 L97.58 632.75 L98.21 632.75 L98.83 632.75 L99.45 632.75 L100.08 632.75 L100.7 632.75 L101.32 632.75 L101.95 632.74 L102.57 632.74 L103.19 632.74 L103.82 632.73 L104.44 632.73 L105.07 632.72 L105.69 632.71 L106.31 632.7 L106.94 632.69 L107.56 632.68 L108.18 632.66 L108.81 632.64 L109.43 632.62 L110.05 632.59 L110.68 632.56 L111.3 632.52 L111.92 632.47 L112.55 632.41 L113.17 632.34 L113.79 632.25 L114.42 632.14 L115.04 632.02 L115.66 631.86 L116.29 631.68 L116.91 631.46 L117.53 631.2 L118.16 630.89 L118.78 630.51 L119.4 630.07 L120.03 629.54 L120.65 628.92 L121.27 628.18 L121.9 627.32 L122.52 626.32 L123.14 625.16 L123.77 623.83 L124.39 622.32 L125.01 620.63 L125.64 618.74 L126.26 616.67 L126.88 614.43 L127.51 612.05 L128.13 609.55 L128.76 606.97 L129.38 604.37 L130 601.78 L130.63 599.25 L131.25 596.82 L131.87 594.53 L132.5 592.4 L133.12 590.45 L133.74 588.69 L134.37 587.11 L134.99 585.72 L135.61 584.51 L136.24 583.46 L136.86 582.55 L137.48 581.77 L138.11 581.11 L138.73 580.55 L139.35 580.08 L139.98 579.68 L140.6 579.35" fill="none" stroke="#5b2c84" stroke-width="1.3"/>
<path d="M101.2 624.29 L101.95 624.28 L102.7 624.28 L103.44 624.28 L104.19 624.28 L104.94 624.28 L105.69 624.27 L106.44 624.27 L107.18 624.27 L107.93 624.26 L108.68 624.26 L109.43 624.26 L110.18 624.25 L110.93 624.25 L111.67 624.24 L112.42 624.23 L113.17 624.23 L113.92 624.22 L114.67 624.21 L115.41 624.2 L116.16 624.19 L116.91 624.17 L117.66 624.16 L118.41 624.15 L119.15 624.13 L119.9 624.11 L120.65 624.09 L121.4 624.07 L122.15 624.05 L122.89 624.02 L123.64 623.99 L124.39 623.95 L125.14 623.92 L125.89 623.88 L126.64 623.83 L127.38 623.78 L128.13 623.73 L128.88 623.67 L129.63 623.6 L130.38 623.53 L131.12 623.44 L131.87 623.35 L132.62 623.25 L133.37 623.14 L134.12 623.02 L134.86 622.88 L135.61 622.73 L136.36 622.57 L137.11 622.38 L137.86 622.18 L138.61 621.95 L139.35 621.71 L140.1 621.43 L140.85 621.13 L141.6 620.79 L142.35 620.42 L143.09 620.01 L143.84 619.56 L144.59 619.05 L145.34 618.5 L146.09 617.88 L146.83 617.21 L147.58 616.46 L148.33 615.63 L149.08 614.71 L149.83 613.69 L150.57 612.57 L151.32 611.33 L152.07 609.96 L152.82 608.44 L153.57 606.76 L154.32 604.91 L155.06 602.85 L155.81 600.58 L156.56 598.08 L157.31 595.3 L158.06 592.23 L158.8 588.84 L159.55 585.09 L160.3 580.94" fill="none" stroke="#c0163f" stroke-width="1.3"/>
<circle cx="61.8" cy="628.64" r="1.4" fill="#1f4f8f"/>
<circle cx="71.65" cy="634.6" r="1.4" fill="#1f4f8f"/>
<line x1="81.5" y1="620.51" x2="81.5" y2="633.52" stroke="#1f4f8f" stroke-width="0.8"/>
<line x1="80.1" y1="620.51" x2="82.9" y2="620.51" stroke="#1f4f8f" stroke-width="0.8"/>
<line x1="80.1" y1="633.52" x2="82.9" y2="633.52" stroke="#1f4f8f" stroke-width="0.8"/>
<circle cx="81.5" cy="628.1" r="1.4" fill="#1f4f8f"/>
<line x1="91.35" y1="600.45" x2="91.35" y2="605.33" stroke="#1f4f8f" stroke-width="0.8"/>
<line x1="89.95" y1="600.45" x2="92.75" y2="600.45" stroke="#1f4f8f" stroke-width="0.8"/>
<line x1="89.95" y1="605.33" x2="92.75" y2="605.33" stroke="#1f4f8f" stroke-width="0.8"/>
<circle cx="91.35" cy="603.16" r="1.4" fill="#1f4f8f"/>
<line x1="101.2" y1="579.32" x2="101.2" y2="582.03" stroke="#1f4f8f" stroke-width="0.8"/>
<line x1="99.8" y1="579.32" x2="102.6" y2="579.32" stroke="#1f4f8f" stroke-width="0.8"/>
<line x1="99.8" y1="582.03" x2="102.6" y2="582.03" stroke="#1f4f8f" stroke-width="0.8"/>
<circle cx="101.2" cy="580.94" r="1.4" fill="#1f4f8f"/>
<line x1="111.05" y1="589.61" x2="111.05" y2="593.41" stroke="#1f4f8f" stroke-width="0.8"/>
<line x1="109.65" y1="589.61" x2="112.45" y2="589.61" stroke="#1f4f8f" stroke-width="0.8"/>
<line x1="109.65" y1="593.41" x2="112.45" y2="593.41" stroke="#1f4f8f" stroke-width="0.8"/>
<circle cx="111.05" cy="591.51" r="1.4" fill="#1f4f8f"/>
<line x1="120.9" y1="584.19" x2="120.9" y2="598.29" stroke="#1f4f8f" stroke-width="0.8"/>
<line x1="119.5" y1="584.19" x2="122.3" y2="584.19" stroke="#1f4f8f" stroke-width="0.8"/>
<line x1="119.5" y1="598.29" x2="122.3" y2="598.29" stroke="#1f4f8f" stroke-width="0.8"/>
<circle cx="120.9" cy="591.51" r="1.4" fill="#1f4f8f"/>
<line x1="61.8" y1="629.18" x2="61.8" y2="636.23" stroke="#6bbb42" stroke-width="0.8"/>
<line x1="60.4" y1="629.18" x2="63.2" y2="629.18" stroke="#6bbb42" stroke-width="0.8"/>
<line x1="60.4" y1="636.23" x2="63.2" y2="636.23" stroke="#6bbb42" stroke-width="0.8"/>
<rect x="60.5" y="631.29" width="2.6" height="2.6" fill="#6bbb42"/>
<line x1="81.5" y1="619.97" x2="81.5" y2="625.39" stroke="#6bbb42" stroke-width="0.8"/>
<line x1="80.1" y1="619.97" x2="82.9" y2="619.97" stroke="#6bbb42" stroke-width="0.8"/>
<line x1="80.1" y1="625.39" x2="82.9" y2="625.39" stroke="#6bbb42" stroke-width="0.8"/>
<rect x="80.2" y="621.38" width="2.6" height="2.6" fill="#6bbb42"/>
<line x1="91.35" y1="620.51" x2="91.35" y2="630.81" stroke="#6bbb42" stroke-width="0.8"/>
<line x1="89.95" y1="620.51" x2="92.75" y2="620.51" stroke="#6bbb42" stroke-width="0.8"/>
<line x1="89.95" y1="630.81" x2="92.75" y2="630.81" stroke="#6bbb42" stroke-width="0.8"/>
<rect x="90.05" y="624.63" width="2.6" height="2.6" fill="#6bbb42"/>
<line x1="101.2" y1="630.26" x2="101.2" y2="638.94" stroke="#6bbb42" stroke-width="0.8"/>
<line x1="99.8" y1="630.26" x2="102.6" y2="630.26" stroke="#6bbb42" stroke-width="0.8"/>
<line x1="99.8" y1="638.94" x2="102.6" y2="638.94" stroke="#6bbb42" stroke-width="0.8"/>
<rect x="99.9" y="634.71" width="2.6" height="2.6" fill="#6bbb42"/>
<line x1="111.05" y1="616.17" x2="111.05" y2="619.97" stroke="#6bbb42" stroke-width="0.8"/>
<line x1="109.65" y1="616.17" x2="112.45" y2="616.17" stroke="#6bbb42" stroke-width="0.8"/>
<line x1="109.65" y1="619.97" x2="112.45" y2="619.97" stroke="#6bbb42" stroke-width="0.8"/>
<rect x="109.75" y="616.12" width="2.6" height="2.6" fill="#6bbb42"/>
<line x1="120.9" y1="579.32" x2="120.9" y2="581.48" stroke="#6bbb42" stroke-width="0.8"/>
<line x1="119.5" y1="579.32" x2="122.3" y2="579.32" stroke="#6bbb42" stroke-width="0.8"/>
<line x1="119.5" y1="581.48" x2="122.3" y2="581.48" stroke="#6bbb42" stroke-width="0.8"/>
<rect x="119.6" y="579.1" width="2.6" height="2.6" fill="#6bbb42"/>
<line x1="130.75" y1="564.14" x2="130.75" y2="592.87" stroke="#6bbb42" stroke-width="0.8"/>
<line x1="129.35" y1="564.14" x2="132.15" y2="564.14" stroke="#6bbb42" stroke-width="0.8"/>
<line x1="129.35" y1="592.87" x2="132.15" y2="592.87" stroke="#6bbb42" stroke-width="0.8"/>
<rect x="129.45" y="581.27" width="2.6" height="2.6" fill="#6bbb42"/>
<line x1="101.2" y1="628.64" x2="101.2" y2="633.52" stroke="#c0163f" stroke-width="0.8"/>
<line x1="99.8" y1="628.64" x2="102.6" y2="628.64" stroke="#c0163f" stroke-width="0.8"/>
<line x1="99.8" y1="633.52" x2="102.6" y2="633.52" stroke="#c0163f" stroke-width="0.8"/>
<path d="M101.2 629.49 L102.8 632.29 L99.6 632.29Z" fill="#c0163f"/>
<line x1="111.05" y1="623.76" x2="111.05" y2="628.1" stroke="#c0163f" stroke-width="0.8"/>
<line x1="109.65" y1="623.76" x2="112.45" y2="623.76" stroke="#c0163f" stroke-width="0.8"/>
<line x1="109.65" y1="628.1" x2="112.45" y2="628.1" stroke="#c0163f" stroke-width="0.8"/>
<path d="M111.05 624.23 L112.65 627.03 L109.45 627.03Z" fill="#c0163f"/>
<line x1="120.9" y1="611.84" x2="120.9" y2="623.22" stroke="#c0163f" stroke-width="0.8"/>
<line x1="119.5" y1="611.84" x2="122.3" y2="611.84" stroke="#c0163f" stroke-width="0.8"/>
<line x1="119.5" y1="623.22" x2="122.3" y2="623.22" stroke="#c0163f" stroke-width="0.8"/>
<path d="M120.9 615.83 L122.5 618.63 L119.3 618.63Z" fill="#c0163f"/>
<line x1="140.6" y1="609.13" x2="140.6" y2="627.01" stroke="#c0163f" stroke-width="0.8"/>
<line x1="139.2" y1="609.13" x2="142" y2="609.13" stroke="#c0163f" stroke-width="0.8"/>
<line x1="139.2" y1="627.01" x2="142" y2="627.01" stroke="#c0163f" stroke-width="0.8"/>
<path d="M140.6 617.18 L142.2 619.98 L139 619.98Z" fill="#c0163f"/>
<path d="M150.45 611.76 L152.05 614.56 L148.85 614.56Z" fill="#c0163f"/>
<line x1="160.3" y1="563.06" x2="160.3" y2="598.83" stroke="#c0163f" stroke-width="0.8"/>
<line x1="158.9" y1="563.06" x2="161.7" y2="563.06" stroke="#c0163f" stroke-width="0.8"/>
<line x1="158.9" y1="598.83" x2="161.7" y2="598.83" stroke="#c0163f" stroke-width="0.8"/>
<path d="M160.3 579.78 L161.9 582.58 L158.7 582.58Z" fill="#c0163f"/>
<path d="M130.75 632.9 L132.35 635.7 L129.15 635.7Z" fill="#c0163f"/>
<path d="M91.35 635 L92.95 632.2 L89.75 632.2Z" fill="#5b2c84"/>
<path d="M101.2 633.59 L102.8 630.79 L99.6 630.79Z" fill="#5b2c84"/>
<path d="M111.05 630.88 L112.65 628.08 L109.45 628.08Z" fill="#5b2c84"/>
<line x1="130.75" y1="588.53" x2="130.75" y2="600.45" stroke="#5b2c84" stroke-width="0.8"/>
<line x1="129.35" y1="588.53" x2="132.15" y2="588.53" stroke="#5b2c84" stroke-width="0.8"/>
<line x1="129.35" y1="600.45" x2="132.15" y2="600.45" stroke="#5b2c84" stroke-width="0.8"/>
<path d="M130.75 596.73 L132.35 593.93 L129.15 593.93Z" fill="#5b2c84"/>
<line x1="140.6" y1="574.44" x2="140.6" y2="585.82" stroke="#5b2c84" stroke-width="0.8"/>
<line x1="139.2" y1="574.44" x2="142" y2="574.44" stroke="#5b2c84" stroke-width="0.8"/>
<line x1="139.2" y1="585.82" x2="142" y2="585.82" stroke="#5b2c84" stroke-width="0.8"/>
<path d="M140.6 581.29 L142.2 578.49 L139 578.49Z" fill="#5b2c84"/>
<line x1="55.4" y1="549.5" x2="63.1" y2="549.5" stroke="#1f4f8f" stroke-width="1.2"/>
<circle cx="59.25" cy="549.5" r="1.3" fill="#1f4f8f"/>
<line x1="55.4" y1="558.7" x2="63.1" y2="558.7" stroke="#6bbb42" stroke-width="1.2"/>
<rect x="57.95" y="557.4000000000001" width="2.6" height="2.6" fill="#6bbb42"/>
<line x1="55.4" y1="568.4" x2="63.1" y2="568.4" stroke="#c0163f" stroke-width="1.2"/>
<path d="M59.25 566.8 L60.85 569.4 L57.65 569.4Z" fill="#c0163f"/>
<line x1="55.4" y1="578.1" x2="63.1" y2="578.1" stroke="#5b2c84" stroke-width="1.2"/>
<path d="M59.25 579.7 L60.85 577.1 L57.65 577.1Z" fill="#5b2c84"/>
<text x="66.2" y="551.6" font-size="6" textLength="24.6" lengthAdjust="spacingAndGlyphs">11-HpDPA</text>
<text x="91" y="555" font-size="4.4" textLength="5.4" lengthAdjust="spacingAndGlyphs">n-6</text>
<text x="66.2" y="560.8" font-size="6" textLength="24.6" lengthAdjust="spacingAndGlyphs">14-HpDPA</text>
<text x="91" y="564.2" font-size="4.4" textLength="5.4" lengthAdjust="spacingAndGlyphs">n-6</text>
<text x="66.2" y="570.5" font-size="6" textLength="10" lengthAdjust="spacingAndGlyphs">DPA</text>
<text x="76.6" y="573.9" font-size="4.4" textLength="5.4" lengthAdjust="spacingAndGlyphs">n-6</text>
<text x="66.2" y="580.2" font-size="6" textLength="25" lengthAdjust="spacingAndGlyphs">WY 14643</text>
<rect x="0.5" y="0.5" width="519" height="672" fill="none" stroke="#111" stroke-width="1.2"/>
</svg></body></html>
